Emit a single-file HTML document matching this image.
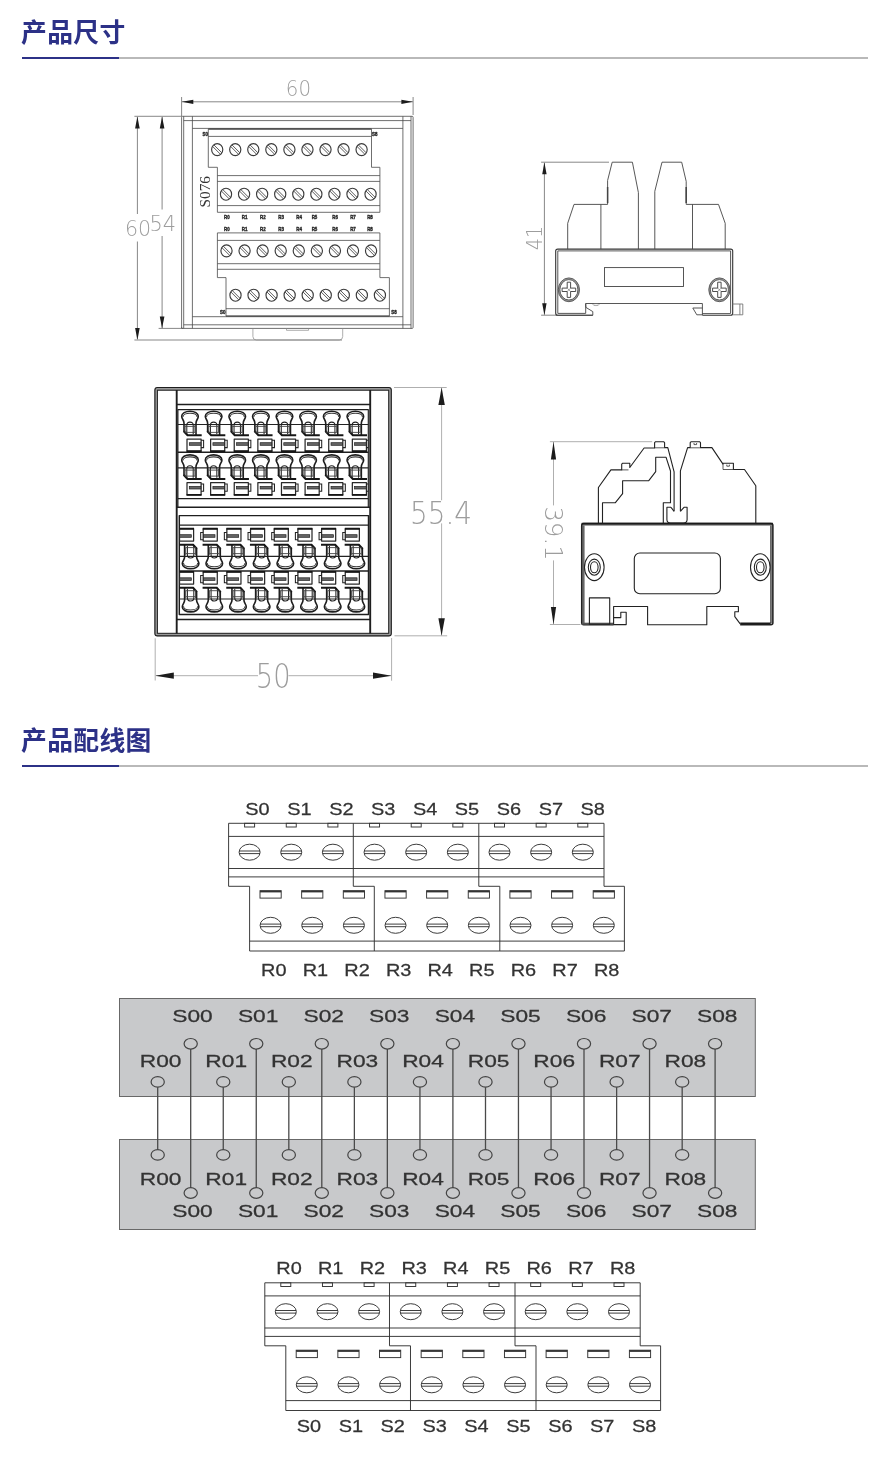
<!DOCTYPE html>
<html lang="zh-CN">
<head>
<meta charset="utf-8">
<title>产品尺寸 / 产品配线图</title>
<style>
html,body{margin:0;padding:0;background:#fff;}
body{width:891px;height:1479px;position:relative;overflow:hidden;font-family:"Liberation Sans","Noto Sans CJK SC",sans-serif;}
.page{position:relative;width:891px;height:1479px;background:#fff;overflow:hidden;}
h2.sec{position:absolute;left:21.4px;margin:0;padding:0;font-family:"Liberation Sans","Noto Sans CJK SC",sans-serif;font-weight:700;font-size:25.8px;line-height:30px;height:30px;color:#2c3187;letter-spacing:.35px;white-space:nowrap;will-change:transform;}
.rule{position:absolute;left:22px;width:846px;height:2px;background:#b9b9b9;}
.rule i{position:absolute;left:0;top:0;width:97px;height:2px;background:#2c3187;display:block;}
svg.draw{position:absolute;left:0;top:0;width:891px;height:1479px;will-change:transform;}
svg.draw *{vector-effect:none;}
.t1{fill:none;stroke:#4a4a4a;stroke-width:.8;}
.t1b{fill:none;stroke:#3a3a3a;stroke-width:1.3;}
.t1l{fill:none;stroke:#8a8a8a;stroke-width:.7;}
.dm{fill:none;stroke:#555;stroke-width:.7;}
.dg{fill:none;stroke:#9a9a9a;stroke-width:.8;}
.ar{fill:#1c1c1c;stroke:none;}
.t2{fill:none;stroke:#444;stroke-width:.9;}
.t3{fill:none;stroke:#1e1e1e;stroke-width:1.45;stroke-linejoin:round;}
.t3b{fill:none;stroke:#161616;stroke-width:2.1;stroke-linecap:butt;}
.t3t{fill:none;stroke:#222;stroke-width:1.05;}
.t3f{fill:#666;stroke:#222;stroke-width:.7;}
.t4{fill:none;stroke:#222;stroke-width:1.1;stroke-linejoin:round;}
.t4b{fill:none;stroke:#1a1a1a;stroke-width:1.8;}
.t4t{fill:none;stroke:#333;stroke-width:.8;}
.c1{fill:none;stroke:#333;stroke-width:.95;}
.c1w{fill:#fff;stroke:#333;stroke-width:.95;}
.gbox{fill:#c8c9cb;stroke:#686868;stroke-width:1;}
.w{fill:none;stroke:#4a4a4a;stroke-width:1.3;}
.wc{fill:#c8c9cb;stroke:#444;stroke-width:1.2;}
.num{font-family:"DejaVu Sans Light","DejaVu Sans","Liberation Sans",sans-serif;font-weight:200;fill:#9d9d9d;}
.tiny{font-family:"Liberation Sans",sans-serif;font-weight:700;font-size:6.2px;fill:#262626;stroke:#262626;stroke-width:.4;text-anchor:middle;}
.serif{font-family:"Liberation Serif",serif;font-size:15px;fill:#333;}
.lab{font-family:"Liberation Sans",sans-serif;font-size:16.2px;fill:#333;stroke:#333;stroke-width:.25;text-anchor:middle;}
.lab2{font-family:"Liberation Sans",sans-serif;font-size:16.6px;fill:#333;stroke:#333;stroke-width:.25;text-anchor:middle;}
</style>
</head>
<body>
<div class="page">
<h2 class="sec" style="top:17.7px">产品尺寸</h2>
<div class="rule" style="top:57px"><i></i></div>
<h2 class="sec" style="top:725.8px">产品配线图</h2>
<div class="rule" style="top:765px"><i></i></div>
<svg class="draw" width="891" height="1479" viewBox="0 0 891 1479">
<g id="d1">
<line x1="181.6" y1="97" x2="181.6" y2="116" class="dm"/>
<line x1="413.1" y1="97" x2="413.1" y2="115" class="dm"/>
<line x1="182" y1="101.8" x2="412.8" y2="101.8" class="dm"/>
<polygon points="181.8,101.8 193.3,99.7 193.3,103.9" class="ar"/>
<polygon points="412.9,101.8 401.4,99.7 401.4,103.9" class="ar"/>
<text x="298.4" y="95.9" class="num" font-size="21.4" text-anchor="middle" textLength="25.2" lengthAdjust="spacingAndGlyphs">60</text>
<line x1="134.4" y1="116.3" x2="182" y2="116.3" class="dm"/>
<line x1="134.4" y1="340" x2="342" y2="340" class="dm"/>
<line x1="158.6" y1="328.4" x2="183" y2="328.4" class="dm"/>
<line x1="137.4" y1="117" x2="137.4" y2="214" class="dm"/>
<line x1="137.4" y1="241.5" x2="137.4" y2="339" class="dm"/>
<line x1="162.1" y1="117" x2="162.1" y2="209.5" class="dm"/>
<line x1="162.1" y1="236" x2="162.1" y2="328" class="dm"/>
<polygon points="137.4,116.4 135.1,128.4 139.7,128.4" class="ar"/>
<polygon points="137.4,340 135.1,328 139.7,328" class="ar"/>
<polygon points="162.1,116.4 159.8,128.4 164.4,128.4" class="ar"/>
<polygon points="162.1,328.4 159.8,316.4 164.4,316.4" class="ar"/>
<text x="138" y="235.8" class="num" font-size="21.8" text-anchor="middle" textLength="26.2" lengthAdjust="spacingAndGlyphs">60</text>
<text x="162.7" y="231.3" class="num" font-size="21" text-anchor="middle" textLength="26.6" lengthAdjust="spacingAndGlyphs">54</text>
<path d="M181.6,328.4 L181.6,117.3 Q181.6,116.3 182.6,116.3 L412.1,116.3 Q413.1,116.3 413.1,117.3 L413.1,327.4 Q413.1,328.4 412.1,328.4 L182.6,328.4 Q181.6,328.4 181.6,327.4" class="t1"/>
<line x1="183.7" y1="116.3" x2="183.7" y2="328.4" class="t1"/>
<line x1="192.4" y1="116.3" x2="192.4" y2="328.4" class="t1"/>
<line x1="411" y1="116.3" x2="411" y2="328.4" class="t1"/>
<line x1="402.9" y1="116.3" x2="402.9" y2="328.4" class="t1"/>
<line x1="183.7" y1="120.6" x2="411" y2="120.6" class="t1"/>
<line x1="183.7" y1="324.8" x2="411" y2="324.8" class="t1"/>
<line x1="192.4" y1="128.4" x2="402.9" y2="128.4" class="t1"/>
<line x1="192.4" y1="316.7" x2="402.9" y2="316.7" class="t1"/>
<path d="M208.3,129.2 L371.5,129.2 L371.5,167.3 L379.9,167.3 L379.9,212.3 L217.4,212.3 L217.4,167.3 L208.3,167.3 Z" class="t1"/>
<line x1="208.3" y1="128.9" x2="371.5" y2="128.9" class="t1" style="stroke-width:1.1"/>
<line x1="208.3" y1="136.4" x2="371.5" y2="136.4" class="t1"/>
<line x1="217.4" y1="175.6" x2="379.9" y2="175.6" class="t1"/>
<line x1="217.4" y1="181.4" x2="379.9" y2="181.4" class="t1"/>
<line x1="217.4" y1="205.6" x2="379.9" y2="205.6" class="t1"/>
<path d="M217.4,232.9 L379.9,232.9 L379.9,277.6 L389.4,277.6 L389.4,316.2 L226,316.2 L226,277.6 L217.4,277.6 Z" class="t1"/>
<line x1="217.4" y1="240.4" x2="379.9" y2="240.4" class="t1"/>
<line x1="217.4" y1="263.7" x2="379.9" y2="263.7" class="t1"/>
<line x1="217.4" y1="269.3" x2="379.9" y2="269.3" class="t1"/>
<line x1="226" y1="308.7" x2="389.4" y2="308.7" class="t1"/>
<line x1="226" y1="316" x2="389.4" y2="316" class="t1" style="stroke-width:1.2"/>
<ellipse cx="217.2" cy="149.6" rx="5.6" ry="6" class="t1" style="stroke:#3a3a3a;stroke-width:1.15"/>
<line x1="212.52" y1="146.34" x2="220.46" y2="154.28" class="t1" style="stroke:#484848;stroke-width:.9"/>
<line x1="213.94" y1="144.92" x2="221.88" y2="152.86" class="t1" style="stroke:#484848;stroke-width:.9"/>
<ellipse cx="226" cy="194.2" rx="5.6" ry="6" class="t1" style="stroke:#3a3a3a;stroke-width:1.15"/>
<line x1="221.32" y1="190.94" x2="229.26" y2="198.88" class="t1" style="stroke:#484848;stroke-width:.9"/>
<line x1="222.74" y1="189.52" x2="230.68" y2="197.46" class="t1" style="stroke:#484848;stroke-width:.9"/>
<ellipse cx="226.5" cy="250.8" rx="5.6" ry="6" class="t1" style="stroke:#3a3a3a;stroke-width:1.15"/>
<line x1="221.82" y1="247.54" x2="229.76" y2="255.48" class="t1" style="stroke:#484848;stroke-width:.9"/>
<line x1="223.24" y1="246.12" x2="231.18" y2="254.06" class="t1" style="stroke:#484848;stroke-width:.9"/>
<ellipse cx="235.5" cy="295.2" rx="5.6" ry="6" class="t1" style="stroke:#3a3a3a;stroke-width:1.15"/>
<line x1="230.82" y1="291.94" x2="238.76" y2="299.88" class="t1" style="stroke:#484848;stroke-width:.9"/>
<line x1="232.24" y1="290.52" x2="240.18" y2="298.46" class="t1" style="stroke:#484848;stroke-width:.9"/>
<ellipse cx="235.25" cy="149.6" rx="5.6" ry="6" class="t1" style="stroke:#3a3a3a;stroke-width:1.15"/>
<line x1="230.57" y1="146.34" x2="238.51" y2="154.28" class="t1" style="stroke:#484848;stroke-width:.9"/>
<line x1="231.99" y1="144.92" x2="239.93" y2="152.86" class="t1" style="stroke:#484848;stroke-width:.9"/>
<ellipse cx="244.07" cy="194.2" rx="5.6" ry="6" class="t1" style="stroke:#3a3a3a;stroke-width:1.15"/>
<line x1="239.39" y1="190.94" x2="247.33" y2="198.88" class="t1" style="stroke:#484848;stroke-width:.9"/>
<line x1="240.81" y1="189.52" x2="248.75" y2="197.46" class="t1" style="stroke:#484848;stroke-width:.9"/>
<ellipse cx="244.57" cy="250.8" rx="5.6" ry="6" class="t1" style="stroke:#3a3a3a;stroke-width:1.15"/>
<line x1="239.89" y1="247.54" x2="247.83" y2="255.48" class="t1" style="stroke:#484848;stroke-width:.9"/>
<line x1="241.31" y1="246.12" x2="249.25" y2="254.06" class="t1" style="stroke:#484848;stroke-width:.9"/>
<ellipse cx="253.55" cy="295.2" rx="5.6" ry="6" class="t1" style="stroke:#3a3a3a;stroke-width:1.15"/>
<line x1="248.87" y1="291.94" x2="256.81" y2="299.88" class="t1" style="stroke:#484848;stroke-width:.9"/>
<line x1="250.29" y1="290.52" x2="258.23" y2="298.46" class="t1" style="stroke:#484848;stroke-width:.9"/>
<ellipse cx="253.3" cy="149.6" rx="5.6" ry="6" class="t1" style="stroke:#3a3a3a;stroke-width:1.15"/>
<line x1="248.62" y1="146.34" x2="256.56" y2="154.28" class="t1" style="stroke:#484848;stroke-width:.9"/>
<line x1="250.04" y1="144.92" x2="257.98" y2="152.86" class="t1" style="stroke:#484848;stroke-width:.9"/>
<ellipse cx="262.14" cy="194.2" rx="5.6" ry="6" class="t1" style="stroke:#3a3a3a;stroke-width:1.15"/>
<line x1="257.46" y1="190.94" x2="265.4" y2="198.88" class="t1" style="stroke:#484848;stroke-width:.9"/>
<line x1="258.88" y1="189.52" x2="266.82" y2="197.46" class="t1" style="stroke:#484848;stroke-width:.9"/>
<ellipse cx="262.64" cy="250.8" rx="5.6" ry="6" class="t1" style="stroke:#3a3a3a;stroke-width:1.15"/>
<line x1="257.96" y1="247.54" x2="265.9" y2="255.48" class="t1" style="stroke:#484848;stroke-width:.9"/>
<line x1="259.38" y1="246.12" x2="267.32" y2="254.06" class="t1" style="stroke:#484848;stroke-width:.9"/>
<ellipse cx="271.6" cy="295.2" rx="5.6" ry="6" class="t1" style="stroke:#3a3a3a;stroke-width:1.15"/>
<line x1="266.92" y1="291.94" x2="274.86" y2="299.88" class="t1" style="stroke:#484848;stroke-width:.9"/>
<line x1="268.34" y1="290.52" x2="276.28" y2="298.46" class="t1" style="stroke:#484848;stroke-width:.9"/>
<ellipse cx="271.35" cy="149.6" rx="5.6" ry="6" class="t1" style="stroke:#3a3a3a;stroke-width:1.15"/>
<line x1="266.67" y1="146.34" x2="274.61" y2="154.28" class="t1" style="stroke:#484848;stroke-width:.9"/>
<line x1="268.09" y1="144.92" x2="276.03" y2="152.86" class="t1" style="stroke:#484848;stroke-width:.9"/>
<ellipse cx="280.21" cy="194.2" rx="5.6" ry="6" class="t1" style="stroke:#3a3a3a;stroke-width:1.15"/>
<line x1="275.53" y1="190.94" x2="283.47" y2="198.88" class="t1" style="stroke:#484848;stroke-width:.9"/>
<line x1="276.95" y1="189.52" x2="284.89" y2="197.46" class="t1" style="stroke:#484848;stroke-width:.9"/>
<ellipse cx="280.71" cy="250.8" rx="5.6" ry="6" class="t1" style="stroke:#3a3a3a;stroke-width:1.15"/>
<line x1="276.03" y1="247.54" x2="283.97" y2="255.48" class="t1" style="stroke:#484848;stroke-width:.9"/>
<line x1="277.45" y1="246.12" x2="285.39" y2="254.06" class="t1" style="stroke:#484848;stroke-width:.9"/>
<ellipse cx="289.65" cy="295.2" rx="5.6" ry="6" class="t1" style="stroke:#3a3a3a;stroke-width:1.15"/>
<line x1="284.97" y1="291.94" x2="292.91" y2="299.88" class="t1" style="stroke:#484848;stroke-width:.9"/>
<line x1="286.39" y1="290.52" x2="294.33" y2="298.46" class="t1" style="stroke:#484848;stroke-width:.9"/>
<ellipse cx="289.4" cy="149.6" rx="5.6" ry="6" class="t1" style="stroke:#3a3a3a;stroke-width:1.15"/>
<line x1="284.72" y1="146.34" x2="292.66" y2="154.28" class="t1" style="stroke:#484848;stroke-width:.9"/>
<line x1="286.14" y1="144.92" x2="294.08" y2="152.86" class="t1" style="stroke:#484848;stroke-width:.9"/>
<ellipse cx="298.28" cy="194.2" rx="5.6" ry="6" class="t1" style="stroke:#3a3a3a;stroke-width:1.15"/>
<line x1="293.6" y1="190.94" x2="301.54" y2="198.88" class="t1" style="stroke:#484848;stroke-width:.9"/>
<line x1="295.02" y1="189.52" x2="302.96" y2="197.46" class="t1" style="stroke:#484848;stroke-width:.9"/>
<ellipse cx="298.78" cy="250.8" rx="5.6" ry="6" class="t1" style="stroke:#3a3a3a;stroke-width:1.15"/>
<line x1="294.1" y1="247.54" x2="302.04" y2="255.48" class="t1" style="stroke:#484848;stroke-width:.9"/>
<line x1="295.52" y1="246.12" x2="303.46" y2="254.06" class="t1" style="stroke:#484848;stroke-width:.9"/>
<ellipse cx="307.7" cy="295.2" rx="5.6" ry="6" class="t1" style="stroke:#3a3a3a;stroke-width:1.15"/>
<line x1="303.02" y1="291.94" x2="310.96" y2="299.88" class="t1" style="stroke:#484848;stroke-width:.9"/>
<line x1="304.44" y1="290.52" x2="312.38" y2="298.46" class="t1" style="stroke:#484848;stroke-width:.9"/>
<ellipse cx="307.45" cy="149.6" rx="5.6" ry="6" class="t1" style="stroke:#3a3a3a;stroke-width:1.15"/>
<line x1="302.77" y1="146.34" x2="310.71" y2="154.28" class="t1" style="stroke:#484848;stroke-width:.9"/>
<line x1="304.19" y1="144.92" x2="312.13" y2="152.86" class="t1" style="stroke:#484848;stroke-width:.9"/>
<ellipse cx="316.35" cy="194.2" rx="5.6" ry="6" class="t1" style="stroke:#3a3a3a;stroke-width:1.15"/>
<line x1="311.67" y1="190.94" x2="319.61" y2="198.88" class="t1" style="stroke:#484848;stroke-width:.9"/>
<line x1="313.09" y1="189.52" x2="321.03" y2="197.46" class="t1" style="stroke:#484848;stroke-width:.9"/>
<ellipse cx="316.85" cy="250.8" rx="5.6" ry="6" class="t1" style="stroke:#3a3a3a;stroke-width:1.15"/>
<line x1="312.17" y1="247.54" x2="320.11" y2="255.48" class="t1" style="stroke:#484848;stroke-width:.9"/>
<line x1="313.59" y1="246.12" x2="321.53" y2="254.06" class="t1" style="stroke:#484848;stroke-width:.9"/>
<ellipse cx="325.75" cy="295.2" rx="5.6" ry="6" class="t1" style="stroke:#3a3a3a;stroke-width:1.15"/>
<line x1="321.07" y1="291.94" x2="329.01" y2="299.88" class="t1" style="stroke:#484848;stroke-width:.9"/>
<line x1="322.49" y1="290.52" x2="330.43" y2="298.46" class="t1" style="stroke:#484848;stroke-width:.9"/>
<ellipse cx="325.5" cy="149.6" rx="5.6" ry="6" class="t1" style="stroke:#3a3a3a;stroke-width:1.15"/>
<line x1="320.82" y1="146.34" x2="328.76" y2="154.28" class="t1" style="stroke:#484848;stroke-width:.9"/>
<line x1="322.24" y1="144.92" x2="330.18" y2="152.86" class="t1" style="stroke:#484848;stroke-width:.9"/>
<ellipse cx="334.42" cy="194.2" rx="5.6" ry="6" class="t1" style="stroke:#3a3a3a;stroke-width:1.15"/>
<line x1="329.74" y1="190.94" x2="337.68" y2="198.88" class="t1" style="stroke:#484848;stroke-width:.9"/>
<line x1="331.16" y1="189.52" x2="339.1" y2="197.46" class="t1" style="stroke:#484848;stroke-width:.9"/>
<ellipse cx="334.92" cy="250.8" rx="5.6" ry="6" class="t1" style="stroke:#3a3a3a;stroke-width:1.15"/>
<line x1="330.24" y1="247.54" x2="338.18" y2="255.48" class="t1" style="stroke:#484848;stroke-width:.9"/>
<line x1="331.66" y1="246.12" x2="339.6" y2="254.06" class="t1" style="stroke:#484848;stroke-width:.9"/>
<ellipse cx="343.8" cy="295.2" rx="5.6" ry="6" class="t1" style="stroke:#3a3a3a;stroke-width:1.15"/>
<line x1="339.12" y1="291.94" x2="347.06" y2="299.88" class="t1" style="stroke:#484848;stroke-width:.9"/>
<line x1="340.54" y1="290.52" x2="348.48" y2="298.46" class="t1" style="stroke:#484848;stroke-width:.9"/>
<ellipse cx="343.55" cy="149.6" rx="5.6" ry="6" class="t1" style="stroke:#3a3a3a;stroke-width:1.15"/>
<line x1="338.87" y1="146.34" x2="346.81" y2="154.28" class="t1" style="stroke:#484848;stroke-width:.9"/>
<line x1="340.29" y1="144.92" x2="348.23" y2="152.86" class="t1" style="stroke:#484848;stroke-width:.9"/>
<ellipse cx="352.49" cy="194.2" rx="5.6" ry="6" class="t1" style="stroke:#3a3a3a;stroke-width:1.15"/>
<line x1="347.81" y1="190.94" x2="355.75" y2="198.88" class="t1" style="stroke:#484848;stroke-width:.9"/>
<line x1="349.23" y1="189.52" x2="357.17" y2="197.46" class="t1" style="stroke:#484848;stroke-width:.9"/>
<ellipse cx="352.99" cy="250.8" rx="5.6" ry="6" class="t1" style="stroke:#3a3a3a;stroke-width:1.15"/>
<line x1="348.31" y1="247.54" x2="356.25" y2="255.48" class="t1" style="stroke:#484848;stroke-width:.9"/>
<line x1="349.73" y1="246.12" x2="357.67" y2="254.06" class="t1" style="stroke:#484848;stroke-width:.9"/>
<ellipse cx="361.85" cy="295.2" rx="5.6" ry="6" class="t1" style="stroke:#3a3a3a;stroke-width:1.15"/>
<line x1="357.17" y1="291.94" x2="365.11" y2="299.88" class="t1" style="stroke:#484848;stroke-width:.9"/>
<line x1="358.59" y1="290.52" x2="366.53" y2="298.46" class="t1" style="stroke:#484848;stroke-width:.9"/>
<ellipse cx="361.6" cy="149.6" rx="5.6" ry="6" class="t1" style="stroke:#3a3a3a;stroke-width:1.15"/>
<line x1="356.92" y1="146.34" x2="364.86" y2="154.28" class="t1" style="stroke:#484848;stroke-width:.9"/>
<line x1="358.34" y1="144.92" x2="366.28" y2="152.86" class="t1" style="stroke:#484848;stroke-width:.9"/>
<ellipse cx="370.56" cy="194.2" rx="5.6" ry="6" class="t1" style="stroke:#3a3a3a;stroke-width:1.15"/>
<line x1="365.88" y1="190.94" x2="373.82" y2="198.88" class="t1" style="stroke:#484848;stroke-width:.9"/>
<line x1="367.3" y1="189.52" x2="375.24" y2="197.46" class="t1" style="stroke:#484848;stroke-width:.9"/>
<ellipse cx="371.06" cy="250.8" rx="5.6" ry="6" class="t1" style="stroke:#3a3a3a;stroke-width:1.15"/>
<line x1="366.38" y1="247.54" x2="374.32" y2="255.48" class="t1" style="stroke:#484848;stroke-width:.9"/>
<line x1="367.8" y1="246.12" x2="375.74" y2="254.06" class="t1" style="stroke:#484848;stroke-width:.9"/>
<ellipse cx="379.9" cy="295.2" rx="5.6" ry="6" class="t1" style="stroke:#3a3a3a;stroke-width:1.15"/>
<line x1="375.22" y1="291.94" x2="383.16" y2="299.88" class="t1" style="stroke:#484848;stroke-width:.9"/>
<line x1="376.64" y1="290.52" x2="384.58" y2="298.46" class="t1" style="stroke:#484848;stroke-width:.9"/>
<text class="tiny" transform="translate(226.8,219) scale(.72,1)">R0</text>
<text class="tiny" transform="translate(226.8,230.8) scale(.72,1)">R0</text>
<text class="tiny" transform="translate(244.6,219) scale(.72,1)">R1</text>
<text class="tiny" transform="translate(244.6,230.8) scale(.72,1)">R1</text>
<text class="tiny" transform="translate(262.8,219) scale(.72,1)">R2</text>
<text class="tiny" transform="translate(262.8,230.8) scale(.72,1)">R2</text>
<text class="tiny" transform="translate(281.1,219) scale(.72,1)">R3</text>
<text class="tiny" transform="translate(281.1,230.8) scale(.72,1)">R3</text>
<text class="tiny" transform="translate(299.1,219) scale(.72,1)">R4</text>
<text class="tiny" transform="translate(299.1,230.8) scale(.72,1)">R4</text>
<text class="tiny" transform="translate(314.5,219) scale(.72,1)">R5</text>
<text class="tiny" transform="translate(314.5,230.8) scale(.72,1)">R5</text>
<text class="tiny" transform="translate(335.2,219) scale(.72,1)">R6</text>
<text class="tiny" transform="translate(335.2,230.8) scale(.72,1)">R6</text>
<text class="tiny" transform="translate(353,219) scale(.72,1)">R7</text>
<text class="tiny" transform="translate(353,230.8) scale(.72,1)">R7</text>
<text class="tiny" transform="translate(370,219) scale(.72,1)">R8</text>
<text class="tiny" transform="translate(370,230.8) scale(.72,1)">R8</text>
<text class="tiny" transform="translate(205.2,136.3) scale(.72,1)">S0</text>
<text class="tiny" transform="translate(374.7,136.3) scale(.72,1)">S8</text>
<text class="tiny" transform="translate(222.7,313.6) scale(.72,1)">S0</text>
<text class="tiny" transform="translate(393.9,313.6) scale(.72,1)">S8</text>
<text class="serif" transform="translate(210,207.4) rotate(-90)" textLength="31.4" lengthAdjust="spacingAndGlyphs">S076</text>
<path d="M252.9,328.4 L252.9,336.5 Q252.9,340 256.4,340 L339.2,340 Q342.7,340 342.7,336.5 L342.7,328.4" class="t1l"/>
<path d="M286.5,328.4 L286.5,330.3 L308.6,330.3 L308.6,328.4" class="t1l"/>
</g>
<g id="d2">
<line x1="541.1" y1="162.2" x2="609" y2="162.2" class="dm"/>
<line x1="541.1" y1="315.2" x2="592.8" y2="315.2" class="dm"/>
<line x1="544.4" y1="163" x2="544.4" y2="314.5" class="dm"/>
<polygon points="544.4,162.3 542.2,174.3 546.6,174.3" class="ar"/>
<polygon points="544.4,315.2 542.2,303.2 546.6,303.2" class="ar"/>
<text class="num" font-size="20.6" text-anchor="middle" transform="translate(541.6,238) rotate(-90)" textLength="24.5" lengthAdjust="spacingAndGlyphs">41</text>
<path d="M555.7,313.2 L555.7,251.1 Q555.7,249.1 557.7,249.1 L730.7,249.1 Q732.7,249.1 732.7,251.1 L732.7,313.2 Q732.7,315.2 730.7,315.2 L702.4,315.2 M592.8,315.2 L557.7,315.2 Q555.7,315.2 555.7,313.2" class="t2" style="stroke:#333;stroke-width:1.1"/>
<path d="M557.8,313.4 L557.8,250.9 L730.6,250.9 L730.6,313.4" class="t2"/>
<line x1="557.8" y1="313.4" x2="585.7" y2="313.4" class="t2"/>
<line x1="702.4" y1="313.6" x2="730.6" y2="313.6" class="t2"/>
<path d="M585.7,313.4 L585.7,303.5 L702.4,303.5 L702.4,315.2" class="t2"/>
<path d="M585.7,303.5 L585.9,307.4 L592.8,311.6 L592.8,315.2" class="t2"/>
<path d="M702.4,308 L692.8,308 L696.8,314.8 L702.4,314.8" class="t2"/>
<ellipse cx="596" cy="304.6" rx="3" ry="1" class="t2" style="stroke:#777;stroke-width:.6"/>
<rect x="604.5" y="267.6" width="79" height="18.9" class="t2"/>
<path d="M732.7,304 L742.8,304 L742.8,314.8 L732.7,314.8 M739.9,304 L739.9,314.8" class="t2" style="stroke:#777"/>
<path d="M567.7,249.1 L567.7,223.3 L574,204.4 L607.6,204.4 L607.6,180.5 L612.2,162.2 L632.4,162.2 L638.4,192.6 L638.4,249.1" class="t2"/>
<line x1="600.9" y1="204.4" x2="600.9" y2="249.1" class="t2"/>
<line x1="607.6" y1="187" x2="607.6" y2="203" class="t2" style="stroke-width:1.5"/>
<path d="M654.8,249.1 L654.8,191.3 L662,162.2 L681.7,162.2 L686.2,181.4 L686.2,204.4 L718.5,204.4 L725.2,223.3 L725.2,249.1" class="t2"/>
<line x1="692.5" y1="204.4" x2="692.5" y2="249.1" class="t2"/>
<line x1="686.2" y1="187" x2="686.2" y2="203" class="t2" style="stroke-width:1.5"/>
<ellipse cx="568.9" cy="289.8" rx="9.8" ry="11.05" fill="none" stroke="#9a9a9a" stroke-width="1.7"/>
<ellipse cx="568.9" cy="289.8" rx="10.6" ry="11.9" class="t2" style="stroke:#444;stroke-width:.8"/>
<ellipse cx="568.9" cy="289.8" rx="9" ry="10.2" class="t2" style="stroke:#444;stroke-width:.8"/>
<path d="M567.2,282.2 L570.6,282.2 L570.6,288.1 L575.7,288.1 L575.7,291.5 L570.6,291.5 L570.6,297.4 L567.2,297.4 L567.2,291.5 L562.1,291.5 L562.1,288.1 L567.2,288.1 Z" class="t2" style="stroke:#3a3a3a"/>
<line x1="567.2" y1="288.1" x2="570.6" y2="291.5" class="t2" style="stroke-width:.5"/>
<line x1="567.2" y1="291.5" x2="570.6" y2="288.1" class="t2" style="stroke-width:.5"/>
<ellipse cx="719.4" cy="289.8" rx="9.8" ry="11.05" fill="none" stroke="#9a9a9a" stroke-width="1.7"/>
<ellipse cx="719.4" cy="289.8" rx="10.6" ry="11.9" class="t2" style="stroke:#444;stroke-width:.8"/>
<ellipse cx="719.4" cy="289.8" rx="9" ry="10.2" class="t2" style="stroke:#444;stroke-width:.8"/>
<path d="M717.7,282.2 L721.1,282.2 L721.1,288.1 L726.2,288.1 L726.2,291.5 L721.1,291.5 L721.1,297.4 L717.7,297.4 L717.7,291.5 L712.6,291.5 L712.6,288.1 L717.7,288.1 Z" class="t2" style="stroke:#3a3a3a"/>
<line x1="717.7" y1="288.1" x2="721.1" y2="291.5" class="t2" style="stroke-width:.5"/>
<line x1="717.7" y1="291.5" x2="721.1" y2="288.1" class="t2" style="stroke-width:.5"/>
</g>
<g id="d3">
<line x1="394" y1="387.5" x2="446.7" y2="387.5" class="dg"/>
<line x1="394.5" y1="635.8" x2="447.2" y2="635.8" class="dg"/>
<line x1="441.6" y1="388" x2="441.6" y2="500.3" class="dg"/>
<line x1="441.6" y1="523.4" x2="441.6" y2="635" class="dg"/>
<polygon points="441.6,387.6 438.4,405.1 444.8,405.1" class="ar"/>
<polygon points="441.6,635.8 438.4,618.3 444.8,618.3" class="ar"/>
<text class="num" font-size="32.6" x="410" y="524.2" textLength="62" lengthAdjust="spacingAndGlyphs">55.4</text>
<line x1="155.2" y1="638.3" x2="155.2" y2="680.5" class="dg"/>
<line x1="391.6" y1="638" x2="391.6" y2="680.7" class="dg"/>
<line x1="156" y1="675.7" x2="258" y2="675.7" class="dg"/>
<line x1="288.5" y1="675.7" x2="391" y2="675.7" class="dg"/>
<polygon points="155.3,675.7 173.8,672.6 173.8,678.8" class="ar"/>
<polygon points="391.5,675.7 373,672.6 373,678.8" class="ar"/>
<text class="num" font-size="33" x="255.8" y="688" textLength="34.8" lengthAdjust="spacingAndGlyphs">50</text>
<rect x="156.1" y="388.8" width="233.9" height="245.8" rx="1.5" ry="1.5" fill="none" stroke="#9a9a9a" stroke-width="3.2"/>
<rect x="154.9" y="387.5" width="236.4" height="248.4" class="t3" rx="2.4" ry="2.4" style="stroke-width:1.1"/>
<rect x="157.4" y="390.2" width="231.3" height="243.1" class="t3t" style="stroke-width:1"/>
<line x1="176.7" y1="390" x2="176.7" y2="633.5" class="t3" style="stroke-width:1.9"/>
<line x1="370.2" y1="390" x2="370.2" y2="633.5" class="t3" style="stroke-width:1.9"/>
<line x1="176.4" y1="404.4" x2="370.4" y2="404.4" class="t3"/>
<path d="M177.9,507.2 L177.9,409.6 L368.3,409.6 L368.3,507.2" class="t3" style="stroke-width:1.15"/>
<line x1="176.4" y1="507.2" x2="370.4" y2="507.2" class="t3"/>
<line x1="177.9" y1="452.3" x2="368.3" y2="452.3" class="t3"/>
<line x1="177.9" y1="498.6" x2="368.3" y2="498.6" class="t3"/>
<line x1="177.9" y1="424.5" x2="368.3" y2="424.5" class="t3t" style="stroke-width:1.2"/>
<line x1="177.9" y1="467.9" x2="368.3" y2="467.9" class="t3t" style="stroke-width:1.2"/>
<path d="M179.3,614.4 L179.3,515.6 L368.5,515.6 L368.5,614.4 Z" class="t3"/>
<line x1="179.3" y1="525.1" x2="368.5" y2="525.1" class="t3"/>
<line x1="179.3" y1="571" x2="368.5" y2="571" class="t3"/>
<line x1="179.3" y1="556.3" x2="368.5" y2="556.3" class="t3t" style="stroke-width:1.2"/>
<line x1="179.3" y1="599" x2="368.5" y2="599" class="t3t" style="stroke-width:1.2"/>
<line x1="176.4" y1="619.4" x2="370.4" y2="619.4" class="t3"/>
<clipPath id="cpU"><rect x="177.9" y="405" width="190.4" height="102"/></clipPath>
<clipPath id="cpL"><rect x="179.3" y="516" width="189.2" height="98.4"/></clipPath>
<g clip-path="url(#cpU)">
<g transform="translate(190,410.1)">
<path class="t3" style="stroke-width:1.6" d="M-6,21.2 L-6,12.8 C-6,10 -8.3,8.8 -8.3,6.1 C-8.3,3.2 -4.6,1.1 0,1.1 C4.6,1.1 8.3,3.2 8.3,6.1 C8.3,8.8 6,10 6,12.8 L6,25.2"/>
<path class="t3t" style="stroke:#3a3a3a" d="M-7.1,6.8 C-7.1,4.6 -4,3.1 0,3.1 C4,3.1 7.1,4.6 7.1,6.8"/>
<path class="t3b" d="M-6.4,20.9 L-2.5,25.2 L11.7,25.2"/>
<path class="t3t" d="M-3.2,23.9 L-3.2,15 Q-3.2,12 0,12 Q3.2,12 3.2,15 L3.2,23.9"/>
<path class="t3t" style="stroke:#444;stroke-width:.9" d="M-4.9,15 L-4.9,22.6 M4.9,15 L4.9,22.6 M-4.9,16.3 L4.9,16.3 M-4.9,22.3 L4.9,22.3"/>
<path class="t3" style="stroke-width:1.25;stroke:#2a2a2a" d="M-3,28.9 L11.1,28.9 L11.1,41.2 L-3,41.2 Z"/>
<path class="t3b" d="M-3.4,41.1 L11.5,41.1" style="stroke-width:1.9"/>
<rect class="t3f" x="-0.7" y="32.6" width="11.6" height="2.6"/>
<path class="t3t" d="M11.1,30.2 L13.6,30.2 L13.6,37.5 L11.1,37.5"/>
</g>
<g transform="translate(190,453.8)">
<path class="t3" style="stroke-width:1.6" d="M-6,21.2 L-6,12.8 C-6,10 -8.3,8.8 -8.3,6.1 C-8.3,3.2 -4.6,1.1 0,1.1 C4.6,1.1 8.3,3.2 8.3,6.1 C8.3,8.8 6,10 6,12.8 L6,25.2"/>
<path class="t3t" style="stroke:#3a3a3a" d="M-7.1,6.8 C-7.1,4.6 -4,3.1 0,3.1 C4,3.1 7.1,4.6 7.1,6.8"/>
<path class="t3b" d="M-6.4,20.9 L-2.5,25.2 L11.7,25.2"/>
<path class="t3t" d="M-3.2,23.9 L-3.2,15 Q-3.2,12 0,12 Q3.2,12 3.2,15 L3.2,23.9"/>
<path class="t3t" style="stroke:#444;stroke-width:.9" d="M-4.9,15 L-4.9,22.6 M4.9,15 L4.9,22.6 M-4.9,16.3 L4.9,16.3 M-4.9,22.3 L4.9,22.3"/>
<path class="t3" style="stroke-width:1.25;stroke:#2a2a2a" d="M-3,28.9 L11.1,28.9 L11.1,41.2 L-3,41.2 Z"/>
<path class="t3b" d="M-3.4,41.1 L11.5,41.1" style="stroke-width:1.9"/>
<rect class="t3f" x="-0.7" y="32.6" width="11.6" height="2.6"/>
<path class="t3t" d="M11.1,30.2 L13.6,30.2 L13.6,37.5 L11.1,37.5"/>
</g>
<g transform="translate(213.62,410.1)">
<path class="t3" style="stroke-width:1.6" d="M-6,21.2 L-6,12.8 C-6,10 -8.3,8.8 -8.3,6.1 C-8.3,3.2 -4.6,1.1 0,1.1 C4.6,1.1 8.3,3.2 8.3,6.1 C8.3,8.8 6,10 6,12.8 L6,25.2"/>
<path class="t3t" style="stroke:#3a3a3a" d="M-7.1,6.8 C-7.1,4.6 -4,3.1 0,3.1 C4,3.1 7.1,4.6 7.1,6.8"/>
<path class="t3b" d="M-6.4,20.9 L-2.5,25.2 L11.7,25.2"/>
<path class="t3t" d="M-3.2,23.9 L-3.2,15 Q-3.2,12 0,12 Q3.2,12 3.2,15 L3.2,23.9"/>
<path class="t3t" style="stroke:#444;stroke-width:.9" d="M-4.9,15 L-4.9,22.6 M4.9,15 L4.9,22.6 M-4.9,16.3 L4.9,16.3 M-4.9,22.3 L4.9,22.3"/>
<path class="t3" style="stroke-width:1.25;stroke:#2a2a2a" d="M-3,28.9 L11.1,28.9 L11.1,41.2 L-3,41.2 Z"/>
<path class="t3b" d="M-3.4,41.1 L11.5,41.1" style="stroke-width:1.9"/>
<rect class="t3f" x="-0.7" y="32.6" width="11.6" height="2.6"/>
<path class="t3t" d="M11.1,30.2 L13.6,30.2 L13.6,37.5 L11.1,37.5"/>
</g>
<g transform="translate(213.62,453.8)">
<path class="t3" style="stroke-width:1.6" d="M-6,21.2 L-6,12.8 C-6,10 -8.3,8.8 -8.3,6.1 C-8.3,3.2 -4.6,1.1 0,1.1 C4.6,1.1 8.3,3.2 8.3,6.1 C8.3,8.8 6,10 6,12.8 L6,25.2"/>
<path class="t3t" style="stroke:#3a3a3a" d="M-7.1,6.8 C-7.1,4.6 -4,3.1 0,3.1 C4,3.1 7.1,4.6 7.1,6.8"/>
<path class="t3b" d="M-6.4,20.9 L-2.5,25.2 L11.7,25.2"/>
<path class="t3t" d="M-3.2,23.9 L-3.2,15 Q-3.2,12 0,12 Q3.2,12 3.2,15 L3.2,23.9"/>
<path class="t3t" style="stroke:#444;stroke-width:.9" d="M-4.9,15 L-4.9,22.6 M4.9,15 L4.9,22.6 M-4.9,16.3 L4.9,16.3 M-4.9,22.3 L4.9,22.3"/>
<path class="t3" style="stroke-width:1.25;stroke:#2a2a2a" d="M-3,28.9 L11.1,28.9 L11.1,41.2 L-3,41.2 Z"/>
<path class="t3b" d="M-3.4,41.1 L11.5,41.1" style="stroke-width:1.9"/>
<rect class="t3f" x="-0.7" y="32.6" width="11.6" height="2.6"/>
<path class="t3t" d="M11.1,30.2 L13.6,30.2 L13.6,37.5 L11.1,37.5"/>
</g>
<g transform="translate(237.24,410.1)">
<path class="t3" style="stroke-width:1.6" d="M-6,21.2 L-6,12.8 C-6,10 -8.3,8.8 -8.3,6.1 C-8.3,3.2 -4.6,1.1 0,1.1 C4.6,1.1 8.3,3.2 8.3,6.1 C8.3,8.8 6,10 6,12.8 L6,25.2"/>
<path class="t3t" style="stroke:#3a3a3a" d="M-7.1,6.8 C-7.1,4.6 -4,3.1 0,3.1 C4,3.1 7.1,4.6 7.1,6.8"/>
<path class="t3b" d="M-6.4,20.9 L-2.5,25.2 L11.7,25.2"/>
<path class="t3t" d="M-3.2,23.9 L-3.2,15 Q-3.2,12 0,12 Q3.2,12 3.2,15 L3.2,23.9"/>
<path class="t3t" style="stroke:#444;stroke-width:.9" d="M-4.9,15 L-4.9,22.6 M4.9,15 L4.9,22.6 M-4.9,16.3 L4.9,16.3 M-4.9,22.3 L4.9,22.3"/>
<path class="t3" style="stroke-width:1.25;stroke:#2a2a2a" d="M-3,28.9 L11.1,28.9 L11.1,41.2 L-3,41.2 Z"/>
<path class="t3b" d="M-3.4,41.1 L11.5,41.1" style="stroke-width:1.9"/>
<rect class="t3f" x="-0.7" y="32.6" width="11.6" height="2.6"/>
<path class="t3t" d="M11.1,30.2 L13.6,30.2 L13.6,37.5 L11.1,37.5"/>
</g>
<g transform="translate(237.24,453.8)">
<path class="t3" style="stroke-width:1.6" d="M-6,21.2 L-6,12.8 C-6,10 -8.3,8.8 -8.3,6.1 C-8.3,3.2 -4.6,1.1 0,1.1 C4.6,1.1 8.3,3.2 8.3,6.1 C8.3,8.8 6,10 6,12.8 L6,25.2"/>
<path class="t3t" style="stroke:#3a3a3a" d="M-7.1,6.8 C-7.1,4.6 -4,3.1 0,3.1 C4,3.1 7.1,4.6 7.1,6.8"/>
<path class="t3b" d="M-6.4,20.9 L-2.5,25.2 L11.7,25.2"/>
<path class="t3t" d="M-3.2,23.9 L-3.2,15 Q-3.2,12 0,12 Q3.2,12 3.2,15 L3.2,23.9"/>
<path class="t3t" style="stroke:#444;stroke-width:.9" d="M-4.9,15 L-4.9,22.6 M4.9,15 L4.9,22.6 M-4.9,16.3 L4.9,16.3 M-4.9,22.3 L4.9,22.3"/>
<path class="t3" style="stroke-width:1.25;stroke:#2a2a2a" d="M-3,28.9 L11.1,28.9 L11.1,41.2 L-3,41.2 Z"/>
<path class="t3b" d="M-3.4,41.1 L11.5,41.1" style="stroke-width:1.9"/>
<rect class="t3f" x="-0.7" y="32.6" width="11.6" height="2.6"/>
<path class="t3t" d="M11.1,30.2 L13.6,30.2 L13.6,37.5 L11.1,37.5"/>
</g>
<g transform="translate(260.86,410.1)">
<path class="t3" style="stroke-width:1.6" d="M-6,21.2 L-6,12.8 C-6,10 -8.3,8.8 -8.3,6.1 C-8.3,3.2 -4.6,1.1 0,1.1 C4.6,1.1 8.3,3.2 8.3,6.1 C8.3,8.8 6,10 6,12.8 L6,25.2"/>
<path class="t3t" style="stroke:#3a3a3a" d="M-7.1,6.8 C-7.1,4.6 -4,3.1 0,3.1 C4,3.1 7.1,4.6 7.1,6.8"/>
<path class="t3b" d="M-6.4,20.9 L-2.5,25.2 L11.7,25.2"/>
<path class="t3t" d="M-3.2,23.9 L-3.2,15 Q-3.2,12 0,12 Q3.2,12 3.2,15 L3.2,23.9"/>
<path class="t3t" style="stroke:#444;stroke-width:.9" d="M-4.9,15 L-4.9,22.6 M4.9,15 L4.9,22.6 M-4.9,16.3 L4.9,16.3 M-4.9,22.3 L4.9,22.3"/>
<path class="t3" style="stroke-width:1.25;stroke:#2a2a2a" d="M-3,28.9 L11.1,28.9 L11.1,41.2 L-3,41.2 Z"/>
<path class="t3b" d="M-3.4,41.1 L11.5,41.1" style="stroke-width:1.9"/>
<rect class="t3f" x="-0.7" y="32.6" width="11.6" height="2.6"/>
<path class="t3t" d="M11.1,30.2 L13.6,30.2 L13.6,37.5 L11.1,37.5"/>
</g>
<g transform="translate(260.86,453.8)">
<path class="t3" style="stroke-width:1.6" d="M-6,21.2 L-6,12.8 C-6,10 -8.3,8.8 -8.3,6.1 C-8.3,3.2 -4.6,1.1 0,1.1 C4.6,1.1 8.3,3.2 8.3,6.1 C8.3,8.8 6,10 6,12.8 L6,25.2"/>
<path class="t3t" style="stroke:#3a3a3a" d="M-7.1,6.8 C-7.1,4.6 -4,3.1 0,3.1 C4,3.1 7.1,4.6 7.1,6.8"/>
<path class="t3b" d="M-6.4,20.9 L-2.5,25.2 L11.7,25.2"/>
<path class="t3t" d="M-3.2,23.9 L-3.2,15 Q-3.2,12 0,12 Q3.2,12 3.2,15 L3.2,23.9"/>
<path class="t3t" style="stroke:#444;stroke-width:.9" d="M-4.9,15 L-4.9,22.6 M4.9,15 L4.9,22.6 M-4.9,16.3 L4.9,16.3 M-4.9,22.3 L4.9,22.3"/>
<path class="t3" style="stroke-width:1.25;stroke:#2a2a2a" d="M-3,28.9 L11.1,28.9 L11.1,41.2 L-3,41.2 Z"/>
<path class="t3b" d="M-3.4,41.1 L11.5,41.1" style="stroke-width:1.9"/>
<rect class="t3f" x="-0.7" y="32.6" width="11.6" height="2.6"/>
<path class="t3t" d="M11.1,30.2 L13.6,30.2 L13.6,37.5 L11.1,37.5"/>
</g>
<g transform="translate(284.48,410.1)">
<path class="t3" style="stroke-width:1.6" d="M-6,21.2 L-6,12.8 C-6,10 -8.3,8.8 -8.3,6.1 C-8.3,3.2 -4.6,1.1 0,1.1 C4.6,1.1 8.3,3.2 8.3,6.1 C8.3,8.8 6,10 6,12.8 L6,25.2"/>
<path class="t3t" style="stroke:#3a3a3a" d="M-7.1,6.8 C-7.1,4.6 -4,3.1 0,3.1 C4,3.1 7.1,4.6 7.1,6.8"/>
<path class="t3b" d="M-6.4,20.9 L-2.5,25.2 L11.7,25.2"/>
<path class="t3t" d="M-3.2,23.9 L-3.2,15 Q-3.2,12 0,12 Q3.2,12 3.2,15 L3.2,23.9"/>
<path class="t3t" style="stroke:#444;stroke-width:.9" d="M-4.9,15 L-4.9,22.6 M4.9,15 L4.9,22.6 M-4.9,16.3 L4.9,16.3 M-4.9,22.3 L4.9,22.3"/>
<path class="t3" style="stroke-width:1.25;stroke:#2a2a2a" d="M-3,28.9 L11.1,28.9 L11.1,41.2 L-3,41.2 Z"/>
<path class="t3b" d="M-3.4,41.1 L11.5,41.1" style="stroke-width:1.9"/>
<rect class="t3f" x="-0.7" y="32.6" width="11.6" height="2.6"/>
<path class="t3t" d="M11.1,30.2 L13.6,30.2 L13.6,37.5 L11.1,37.5"/>
</g>
<g transform="translate(284.48,453.8)">
<path class="t3" style="stroke-width:1.6" d="M-6,21.2 L-6,12.8 C-6,10 -8.3,8.8 -8.3,6.1 C-8.3,3.2 -4.6,1.1 0,1.1 C4.6,1.1 8.3,3.2 8.3,6.1 C8.3,8.8 6,10 6,12.8 L6,25.2"/>
<path class="t3t" style="stroke:#3a3a3a" d="M-7.1,6.8 C-7.1,4.6 -4,3.1 0,3.1 C4,3.1 7.1,4.6 7.1,6.8"/>
<path class="t3b" d="M-6.4,20.9 L-2.5,25.2 L11.7,25.2"/>
<path class="t3t" d="M-3.2,23.9 L-3.2,15 Q-3.2,12 0,12 Q3.2,12 3.2,15 L3.2,23.9"/>
<path class="t3t" style="stroke:#444;stroke-width:.9" d="M-4.9,15 L-4.9,22.6 M4.9,15 L4.9,22.6 M-4.9,16.3 L4.9,16.3 M-4.9,22.3 L4.9,22.3"/>
<path class="t3" style="stroke-width:1.25;stroke:#2a2a2a" d="M-3,28.9 L11.1,28.9 L11.1,41.2 L-3,41.2 Z"/>
<path class="t3b" d="M-3.4,41.1 L11.5,41.1" style="stroke-width:1.9"/>
<rect class="t3f" x="-0.7" y="32.6" width="11.6" height="2.6"/>
<path class="t3t" d="M11.1,30.2 L13.6,30.2 L13.6,37.5 L11.1,37.5"/>
</g>
<g transform="translate(308.1,410.1)">
<path class="t3" style="stroke-width:1.6" d="M-6,21.2 L-6,12.8 C-6,10 -8.3,8.8 -8.3,6.1 C-8.3,3.2 -4.6,1.1 0,1.1 C4.6,1.1 8.3,3.2 8.3,6.1 C8.3,8.8 6,10 6,12.8 L6,25.2"/>
<path class="t3t" style="stroke:#3a3a3a" d="M-7.1,6.8 C-7.1,4.6 -4,3.1 0,3.1 C4,3.1 7.1,4.6 7.1,6.8"/>
<path class="t3b" d="M-6.4,20.9 L-2.5,25.2 L11.7,25.2"/>
<path class="t3t" d="M-3.2,23.9 L-3.2,15 Q-3.2,12 0,12 Q3.2,12 3.2,15 L3.2,23.9"/>
<path class="t3t" style="stroke:#444;stroke-width:.9" d="M-4.9,15 L-4.9,22.6 M4.9,15 L4.9,22.6 M-4.9,16.3 L4.9,16.3 M-4.9,22.3 L4.9,22.3"/>
<path class="t3" style="stroke-width:1.25;stroke:#2a2a2a" d="M-3,28.9 L11.1,28.9 L11.1,41.2 L-3,41.2 Z"/>
<path class="t3b" d="M-3.4,41.1 L11.5,41.1" style="stroke-width:1.9"/>
<rect class="t3f" x="-0.7" y="32.6" width="11.6" height="2.6"/>
<path class="t3t" d="M11.1,30.2 L13.6,30.2 L13.6,37.5 L11.1,37.5"/>
</g>
<g transform="translate(308.1,453.8)">
<path class="t3" style="stroke-width:1.6" d="M-6,21.2 L-6,12.8 C-6,10 -8.3,8.8 -8.3,6.1 C-8.3,3.2 -4.6,1.1 0,1.1 C4.6,1.1 8.3,3.2 8.3,6.1 C8.3,8.8 6,10 6,12.8 L6,25.2"/>
<path class="t3t" style="stroke:#3a3a3a" d="M-7.1,6.8 C-7.1,4.6 -4,3.1 0,3.1 C4,3.1 7.1,4.6 7.1,6.8"/>
<path class="t3b" d="M-6.4,20.9 L-2.5,25.2 L11.7,25.2"/>
<path class="t3t" d="M-3.2,23.9 L-3.2,15 Q-3.2,12 0,12 Q3.2,12 3.2,15 L3.2,23.9"/>
<path class="t3t" style="stroke:#444;stroke-width:.9" d="M-4.9,15 L-4.9,22.6 M4.9,15 L4.9,22.6 M-4.9,16.3 L4.9,16.3 M-4.9,22.3 L4.9,22.3"/>
<path class="t3" style="stroke-width:1.25;stroke:#2a2a2a" d="M-3,28.9 L11.1,28.9 L11.1,41.2 L-3,41.2 Z"/>
<path class="t3b" d="M-3.4,41.1 L11.5,41.1" style="stroke-width:1.9"/>
<rect class="t3f" x="-0.7" y="32.6" width="11.6" height="2.6"/>
<path class="t3t" d="M11.1,30.2 L13.6,30.2 L13.6,37.5 L11.1,37.5"/>
</g>
<g transform="translate(331.72,410.1)">
<path class="t3" style="stroke-width:1.6" d="M-6,21.2 L-6,12.8 C-6,10 -8.3,8.8 -8.3,6.1 C-8.3,3.2 -4.6,1.1 0,1.1 C4.6,1.1 8.3,3.2 8.3,6.1 C8.3,8.8 6,10 6,12.8 L6,25.2"/>
<path class="t3t" style="stroke:#3a3a3a" d="M-7.1,6.8 C-7.1,4.6 -4,3.1 0,3.1 C4,3.1 7.1,4.6 7.1,6.8"/>
<path class="t3b" d="M-6.4,20.9 L-2.5,25.2 L11.7,25.2"/>
<path class="t3t" d="M-3.2,23.9 L-3.2,15 Q-3.2,12 0,12 Q3.2,12 3.2,15 L3.2,23.9"/>
<path class="t3t" style="stroke:#444;stroke-width:.9" d="M-4.9,15 L-4.9,22.6 M4.9,15 L4.9,22.6 M-4.9,16.3 L4.9,16.3 M-4.9,22.3 L4.9,22.3"/>
<path class="t3" style="stroke-width:1.25;stroke:#2a2a2a" d="M-3,28.9 L11.1,28.9 L11.1,41.2 L-3,41.2 Z"/>
<path class="t3b" d="M-3.4,41.1 L11.5,41.1" style="stroke-width:1.9"/>
<rect class="t3f" x="-0.7" y="32.6" width="11.6" height="2.6"/>
<path class="t3t" d="M11.1,30.2 L13.6,30.2 L13.6,37.5 L11.1,37.5"/>
</g>
<g transform="translate(331.72,453.8)">
<path class="t3" style="stroke-width:1.6" d="M-6,21.2 L-6,12.8 C-6,10 -8.3,8.8 -8.3,6.1 C-8.3,3.2 -4.6,1.1 0,1.1 C4.6,1.1 8.3,3.2 8.3,6.1 C8.3,8.8 6,10 6,12.8 L6,25.2"/>
<path class="t3t" style="stroke:#3a3a3a" d="M-7.1,6.8 C-7.1,4.6 -4,3.1 0,3.1 C4,3.1 7.1,4.6 7.1,6.8"/>
<path class="t3b" d="M-6.4,20.9 L-2.5,25.2 L11.7,25.2"/>
<path class="t3t" d="M-3.2,23.9 L-3.2,15 Q-3.2,12 0,12 Q3.2,12 3.2,15 L3.2,23.9"/>
<path class="t3t" style="stroke:#444;stroke-width:.9" d="M-4.9,15 L-4.9,22.6 M4.9,15 L4.9,22.6 M-4.9,16.3 L4.9,16.3 M-4.9,22.3 L4.9,22.3"/>
<path class="t3" style="stroke-width:1.25;stroke:#2a2a2a" d="M-3,28.9 L11.1,28.9 L11.1,41.2 L-3,41.2 Z"/>
<path class="t3b" d="M-3.4,41.1 L11.5,41.1" style="stroke-width:1.9"/>
<rect class="t3f" x="-0.7" y="32.6" width="11.6" height="2.6"/>
<path class="t3t" d="M11.1,30.2 L13.6,30.2 L13.6,37.5 L11.1,37.5"/>
</g>
<g transform="translate(355.34,410.1)">
<path class="t3" style="stroke-width:1.6" d="M-6,21.2 L-6,12.8 C-6,10 -8.3,8.8 -8.3,6.1 C-8.3,3.2 -4.6,1.1 0,1.1 C4.6,1.1 8.3,3.2 8.3,6.1 C8.3,8.8 6,10 6,12.8 L6,25.2"/>
<path class="t3t" style="stroke:#3a3a3a" d="M-7.1,6.8 C-7.1,4.6 -4,3.1 0,3.1 C4,3.1 7.1,4.6 7.1,6.8"/>
<path class="t3b" d="M-6.4,20.9 L-2.5,25.2 L11.7,25.2"/>
<path class="t3t" d="M-3.2,23.9 L-3.2,15 Q-3.2,12 0,12 Q3.2,12 3.2,15 L3.2,23.9"/>
<path class="t3t" style="stroke:#444;stroke-width:.9" d="M-4.9,15 L-4.9,22.6 M4.9,15 L4.9,22.6 M-4.9,16.3 L4.9,16.3 M-4.9,22.3 L4.9,22.3"/>
<path class="t3" style="stroke-width:1.25;stroke:#2a2a2a" d="M-3,28.9 L11.1,28.9 L11.1,41.2 L-3,41.2 Z"/>
<path class="t3b" d="M-3.4,41.1 L11.5,41.1" style="stroke-width:1.9"/>
<rect class="t3f" x="-0.7" y="32.6" width="11.6" height="2.6"/>
<path class="t3t" d="M11.1,30.2 L13.6,30.2 L13.6,37.5 L11.1,37.5"/>
</g>
<g transform="translate(355.34,453.8)">
<path class="t3" style="stroke-width:1.6" d="M-6,21.2 L-6,12.8 C-6,10 -8.3,8.8 -8.3,6.1 C-8.3,3.2 -4.6,1.1 0,1.1 C4.6,1.1 8.3,3.2 8.3,6.1 C8.3,8.8 6,10 6,12.8 L6,25.2"/>
<path class="t3t" style="stroke:#3a3a3a" d="M-7.1,6.8 C-7.1,4.6 -4,3.1 0,3.1 C4,3.1 7.1,4.6 7.1,6.8"/>
<path class="t3b" d="M-6.4,20.9 L-2.5,25.2 L11.7,25.2"/>
<path class="t3t" d="M-3.2,23.9 L-3.2,15 Q-3.2,12 0,12 Q3.2,12 3.2,15 L3.2,23.9"/>
<path class="t3t" style="stroke:#444;stroke-width:.9" d="M-4.9,15 L-4.9,22.6 M4.9,15 L4.9,22.6 M-4.9,16.3 L4.9,16.3 M-4.9,22.3 L4.9,22.3"/>
<path class="t3" style="stroke-width:1.25;stroke:#2a2a2a" d="M-3,28.9 L11.1,28.9 L11.1,41.2 L-3,41.2 Z"/>
<path class="t3b" d="M-3.4,41.1 L11.5,41.1" style="stroke-width:1.9"/>
<rect class="t3f" x="-0.7" y="32.6" width="11.6" height="2.6"/>
<path class="t3t" d="M11.1,30.2 L13.6,30.2 L13.6,37.5 L11.1,37.5"/>
</g>
</g>
<g clip-path="url(#cpL)">
<g transform="translate(190.6,569.9) rotate(180)">
<path class="t3" style="stroke-width:1.6" d="M-6,21.2 L-6,12.8 C-6,10 -8.3,8.8 -8.3,6.1 C-8.3,3.2 -4.6,1.1 0,1.1 C4.6,1.1 8.3,3.2 8.3,6.1 C8.3,8.8 6,10 6,12.8 L6,25.2"/>
<path class="t3t" style="stroke:#3a3a3a" d="M-7.1,6.8 C-7.1,4.6 -4,3.1 0,3.1 C4,3.1 7.1,4.6 7.1,6.8"/>
<path class="t3b" d="M-6.4,20.9 L-2.5,25.2 L11.7,25.2"/>
<path class="t3t" d="M-3.2,23.9 L-3.2,15 Q-3.2,12 0,12 Q3.2,12 3.2,15 L3.2,23.9"/>
<path class="t3t" style="stroke:#444;stroke-width:.9" d="M-4.9,15 L-4.9,22.6 M4.9,15 L4.9,22.6 M-4.9,16.3 L4.9,16.3 M-4.9,22.3 L4.9,22.3"/>
<path class="t3" style="stroke-width:1.25;stroke:#2a2a2a" d="M-3,28.9 L11.1,28.9 L11.1,41.2 L-3,41.2 Z"/>
<path class="t3b" d="M-3.4,41.1 L11.5,41.1" style="stroke-width:1.9"/>
<rect class="t3f" x="-0.7" y="32.6" width="11.6" height="2.6"/>
<path class="t3t" d="M11.1,30.2 L13.6,30.2 L13.6,37.5 L11.1,37.5"/>
</g>
<g transform="translate(190.6,613) rotate(180)">
<path class="t3" style="stroke-width:1.6" d="M-6,21.2 L-6,12.8 C-6,10 -8.3,8.8 -8.3,6.1 C-8.3,3.2 -4.6,1.1 0,1.1 C4.6,1.1 8.3,3.2 8.3,6.1 C8.3,8.8 6,10 6,12.8 L6,25.2"/>
<path class="t3t" style="stroke:#3a3a3a" d="M-7.1,6.8 C-7.1,4.6 -4,3.1 0,3.1 C4,3.1 7.1,4.6 7.1,6.8"/>
<path class="t3b" d="M-6.4,20.9 L-2.5,25.2 L11.7,25.2"/>
<path class="t3t" d="M-3.2,23.9 L-3.2,15 Q-3.2,12 0,12 Q3.2,12 3.2,15 L3.2,23.9"/>
<path class="t3t" style="stroke:#444;stroke-width:.9" d="M-4.9,15 L-4.9,22.6 M4.9,15 L4.9,22.6 M-4.9,16.3 L4.9,16.3 M-4.9,22.3 L4.9,22.3"/>
<path class="t3" style="stroke-width:1.25;stroke:#2a2a2a" d="M-3,28.9 L11.1,28.9 L11.1,41.2 L-3,41.2 Z"/>
<path class="t3b" d="M-3.4,41.1 L11.5,41.1" style="stroke-width:1.9"/>
<rect class="t3f" x="-0.7" y="32.6" width="11.6" height="2.6"/>
<path class="t3t" d="M11.1,30.2 L13.6,30.2 L13.6,37.5 L11.1,37.5"/>
</g>
<g transform="translate(214.28,569.9) rotate(180)">
<path class="t3" style="stroke-width:1.6" d="M-6,21.2 L-6,12.8 C-6,10 -8.3,8.8 -8.3,6.1 C-8.3,3.2 -4.6,1.1 0,1.1 C4.6,1.1 8.3,3.2 8.3,6.1 C8.3,8.8 6,10 6,12.8 L6,25.2"/>
<path class="t3t" style="stroke:#3a3a3a" d="M-7.1,6.8 C-7.1,4.6 -4,3.1 0,3.1 C4,3.1 7.1,4.6 7.1,6.8"/>
<path class="t3b" d="M-6.4,20.9 L-2.5,25.2 L11.7,25.2"/>
<path class="t3t" d="M-3.2,23.9 L-3.2,15 Q-3.2,12 0,12 Q3.2,12 3.2,15 L3.2,23.9"/>
<path class="t3t" style="stroke:#444;stroke-width:.9" d="M-4.9,15 L-4.9,22.6 M4.9,15 L4.9,22.6 M-4.9,16.3 L4.9,16.3 M-4.9,22.3 L4.9,22.3"/>
<path class="t3" style="stroke-width:1.25;stroke:#2a2a2a" d="M-3,28.9 L11.1,28.9 L11.1,41.2 L-3,41.2 Z"/>
<path class="t3b" d="M-3.4,41.1 L11.5,41.1" style="stroke-width:1.9"/>
<rect class="t3f" x="-0.7" y="32.6" width="11.6" height="2.6"/>
<path class="t3t" d="M11.1,30.2 L13.6,30.2 L13.6,37.5 L11.1,37.5"/>
</g>
<g transform="translate(214.28,613) rotate(180)">
<path class="t3" style="stroke-width:1.6" d="M-6,21.2 L-6,12.8 C-6,10 -8.3,8.8 -8.3,6.1 C-8.3,3.2 -4.6,1.1 0,1.1 C4.6,1.1 8.3,3.2 8.3,6.1 C8.3,8.8 6,10 6,12.8 L6,25.2"/>
<path class="t3t" style="stroke:#3a3a3a" d="M-7.1,6.8 C-7.1,4.6 -4,3.1 0,3.1 C4,3.1 7.1,4.6 7.1,6.8"/>
<path class="t3b" d="M-6.4,20.9 L-2.5,25.2 L11.7,25.2"/>
<path class="t3t" d="M-3.2,23.9 L-3.2,15 Q-3.2,12 0,12 Q3.2,12 3.2,15 L3.2,23.9"/>
<path class="t3t" style="stroke:#444;stroke-width:.9" d="M-4.9,15 L-4.9,22.6 M4.9,15 L4.9,22.6 M-4.9,16.3 L4.9,16.3 M-4.9,22.3 L4.9,22.3"/>
<path class="t3" style="stroke-width:1.25;stroke:#2a2a2a" d="M-3,28.9 L11.1,28.9 L11.1,41.2 L-3,41.2 Z"/>
<path class="t3b" d="M-3.4,41.1 L11.5,41.1" style="stroke-width:1.9"/>
<rect class="t3f" x="-0.7" y="32.6" width="11.6" height="2.6"/>
<path class="t3t" d="M11.1,30.2 L13.6,30.2 L13.6,37.5 L11.1,37.5"/>
</g>
<g transform="translate(237.96,569.9) rotate(180)">
<path class="t3" style="stroke-width:1.6" d="M-6,21.2 L-6,12.8 C-6,10 -8.3,8.8 -8.3,6.1 C-8.3,3.2 -4.6,1.1 0,1.1 C4.6,1.1 8.3,3.2 8.3,6.1 C8.3,8.8 6,10 6,12.8 L6,25.2"/>
<path class="t3t" style="stroke:#3a3a3a" d="M-7.1,6.8 C-7.1,4.6 -4,3.1 0,3.1 C4,3.1 7.1,4.6 7.1,6.8"/>
<path class="t3b" d="M-6.4,20.9 L-2.5,25.2 L11.7,25.2"/>
<path class="t3t" d="M-3.2,23.9 L-3.2,15 Q-3.2,12 0,12 Q3.2,12 3.2,15 L3.2,23.9"/>
<path class="t3t" style="stroke:#444;stroke-width:.9" d="M-4.9,15 L-4.9,22.6 M4.9,15 L4.9,22.6 M-4.9,16.3 L4.9,16.3 M-4.9,22.3 L4.9,22.3"/>
<path class="t3" style="stroke-width:1.25;stroke:#2a2a2a" d="M-3,28.9 L11.1,28.9 L11.1,41.2 L-3,41.2 Z"/>
<path class="t3b" d="M-3.4,41.1 L11.5,41.1" style="stroke-width:1.9"/>
<rect class="t3f" x="-0.7" y="32.6" width="11.6" height="2.6"/>
<path class="t3t" d="M11.1,30.2 L13.6,30.2 L13.6,37.5 L11.1,37.5"/>
</g>
<g transform="translate(237.96,613) rotate(180)">
<path class="t3" style="stroke-width:1.6" d="M-6,21.2 L-6,12.8 C-6,10 -8.3,8.8 -8.3,6.1 C-8.3,3.2 -4.6,1.1 0,1.1 C4.6,1.1 8.3,3.2 8.3,6.1 C8.3,8.8 6,10 6,12.8 L6,25.2"/>
<path class="t3t" style="stroke:#3a3a3a" d="M-7.1,6.8 C-7.1,4.6 -4,3.1 0,3.1 C4,3.1 7.1,4.6 7.1,6.8"/>
<path class="t3b" d="M-6.4,20.9 L-2.5,25.2 L11.7,25.2"/>
<path class="t3t" d="M-3.2,23.9 L-3.2,15 Q-3.2,12 0,12 Q3.2,12 3.2,15 L3.2,23.9"/>
<path class="t3t" style="stroke:#444;stroke-width:.9" d="M-4.9,15 L-4.9,22.6 M4.9,15 L4.9,22.6 M-4.9,16.3 L4.9,16.3 M-4.9,22.3 L4.9,22.3"/>
<path class="t3" style="stroke-width:1.25;stroke:#2a2a2a" d="M-3,28.9 L11.1,28.9 L11.1,41.2 L-3,41.2 Z"/>
<path class="t3b" d="M-3.4,41.1 L11.5,41.1" style="stroke-width:1.9"/>
<rect class="t3f" x="-0.7" y="32.6" width="11.6" height="2.6"/>
<path class="t3t" d="M11.1,30.2 L13.6,30.2 L13.6,37.5 L11.1,37.5"/>
</g>
<g transform="translate(261.64,569.9) rotate(180)">
<path class="t3" style="stroke-width:1.6" d="M-6,21.2 L-6,12.8 C-6,10 -8.3,8.8 -8.3,6.1 C-8.3,3.2 -4.6,1.1 0,1.1 C4.6,1.1 8.3,3.2 8.3,6.1 C8.3,8.8 6,10 6,12.8 L6,25.2"/>
<path class="t3t" style="stroke:#3a3a3a" d="M-7.1,6.8 C-7.1,4.6 -4,3.1 0,3.1 C4,3.1 7.1,4.6 7.1,6.8"/>
<path class="t3b" d="M-6.4,20.9 L-2.5,25.2 L11.7,25.2"/>
<path class="t3t" d="M-3.2,23.9 L-3.2,15 Q-3.2,12 0,12 Q3.2,12 3.2,15 L3.2,23.9"/>
<path class="t3t" style="stroke:#444;stroke-width:.9" d="M-4.9,15 L-4.9,22.6 M4.9,15 L4.9,22.6 M-4.9,16.3 L4.9,16.3 M-4.9,22.3 L4.9,22.3"/>
<path class="t3" style="stroke-width:1.25;stroke:#2a2a2a" d="M-3,28.9 L11.1,28.9 L11.1,41.2 L-3,41.2 Z"/>
<path class="t3b" d="M-3.4,41.1 L11.5,41.1" style="stroke-width:1.9"/>
<rect class="t3f" x="-0.7" y="32.6" width="11.6" height="2.6"/>
<path class="t3t" d="M11.1,30.2 L13.6,30.2 L13.6,37.5 L11.1,37.5"/>
</g>
<g transform="translate(261.64,613) rotate(180)">
<path class="t3" style="stroke-width:1.6" d="M-6,21.2 L-6,12.8 C-6,10 -8.3,8.8 -8.3,6.1 C-8.3,3.2 -4.6,1.1 0,1.1 C4.6,1.1 8.3,3.2 8.3,6.1 C8.3,8.8 6,10 6,12.8 L6,25.2"/>
<path class="t3t" style="stroke:#3a3a3a" d="M-7.1,6.8 C-7.1,4.6 -4,3.1 0,3.1 C4,3.1 7.1,4.6 7.1,6.8"/>
<path class="t3b" d="M-6.4,20.9 L-2.5,25.2 L11.7,25.2"/>
<path class="t3t" d="M-3.2,23.9 L-3.2,15 Q-3.2,12 0,12 Q3.2,12 3.2,15 L3.2,23.9"/>
<path class="t3t" style="stroke:#444;stroke-width:.9" d="M-4.9,15 L-4.9,22.6 M4.9,15 L4.9,22.6 M-4.9,16.3 L4.9,16.3 M-4.9,22.3 L4.9,22.3"/>
<path class="t3" style="stroke-width:1.25;stroke:#2a2a2a" d="M-3,28.9 L11.1,28.9 L11.1,41.2 L-3,41.2 Z"/>
<path class="t3b" d="M-3.4,41.1 L11.5,41.1" style="stroke-width:1.9"/>
<rect class="t3f" x="-0.7" y="32.6" width="11.6" height="2.6"/>
<path class="t3t" d="M11.1,30.2 L13.6,30.2 L13.6,37.5 L11.1,37.5"/>
</g>
<g transform="translate(285.32,569.9) rotate(180)">
<path class="t3" style="stroke-width:1.6" d="M-6,21.2 L-6,12.8 C-6,10 -8.3,8.8 -8.3,6.1 C-8.3,3.2 -4.6,1.1 0,1.1 C4.6,1.1 8.3,3.2 8.3,6.1 C8.3,8.8 6,10 6,12.8 L6,25.2"/>
<path class="t3t" style="stroke:#3a3a3a" d="M-7.1,6.8 C-7.1,4.6 -4,3.1 0,3.1 C4,3.1 7.1,4.6 7.1,6.8"/>
<path class="t3b" d="M-6.4,20.9 L-2.5,25.2 L11.7,25.2"/>
<path class="t3t" d="M-3.2,23.9 L-3.2,15 Q-3.2,12 0,12 Q3.2,12 3.2,15 L3.2,23.9"/>
<path class="t3t" style="stroke:#444;stroke-width:.9" d="M-4.9,15 L-4.9,22.6 M4.9,15 L4.9,22.6 M-4.9,16.3 L4.9,16.3 M-4.9,22.3 L4.9,22.3"/>
<path class="t3" style="stroke-width:1.25;stroke:#2a2a2a" d="M-3,28.9 L11.1,28.9 L11.1,41.2 L-3,41.2 Z"/>
<path class="t3b" d="M-3.4,41.1 L11.5,41.1" style="stroke-width:1.9"/>
<rect class="t3f" x="-0.7" y="32.6" width="11.6" height="2.6"/>
<path class="t3t" d="M11.1,30.2 L13.6,30.2 L13.6,37.5 L11.1,37.5"/>
</g>
<g transform="translate(285.32,613) rotate(180)">
<path class="t3" style="stroke-width:1.6" d="M-6,21.2 L-6,12.8 C-6,10 -8.3,8.8 -8.3,6.1 C-8.3,3.2 -4.6,1.1 0,1.1 C4.6,1.1 8.3,3.2 8.3,6.1 C8.3,8.8 6,10 6,12.8 L6,25.2"/>
<path class="t3t" style="stroke:#3a3a3a" d="M-7.1,6.8 C-7.1,4.6 -4,3.1 0,3.1 C4,3.1 7.1,4.6 7.1,6.8"/>
<path class="t3b" d="M-6.4,20.9 L-2.5,25.2 L11.7,25.2"/>
<path class="t3t" d="M-3.2,23.9 L-3.2,15 Q-3.2,12 0,12 Q3.2,12 3.2,15 L3.2,23.9"/>
<path class="t3t" style="stroke:#444;stroke-width:.9" d="M-4.9,15 L-4.9,22.6 M4.9,15 L4.9,22.6 M-4.9,16.3 L4.9,16.3 M-4.9,22.3 L4.9,22.3"/>
<path class="t3" style="stroke-width:1.25;stroke:#2a2a2a" d="M-3,28.9 L11.1,28.9 L11.1,41.2 L-3,41.2 Z"/>
<path class="t3b" d="M-3.4,41.1 L11.5,41.1" style="stroke-width:1.9"/>
<rect class="t3f" x="-0.7" y="32.6" width="11.6" height="2.6"/>
<path class="t3t" d="M11.1,30.2 L13.6,30.2 L13.6,37.5 L11.1,37.5"/>
</g>
<g transform="translate(309,569.9) rotate(180)">
<path class="t3" style="stroke-width:1.6" d="M-6,21.2 L-6,12.8 C-6,10 -8.3,8.8 -8.3,6.1 C-8.3,3.2 -4.6,1.1 0,1.1 C4.6,1.1 8.3,3.2 8.3,6.1 C8.3,8.8 6,10 6,12.8 L6,25.2"/>
<path class="t3t" style="stroke:#3a3a3a" d="M-7.1,6.8 C-7.1,4.6 -4,3.1 0,3.1 C4,3.1 7.1,4.6 7.1,6.8"/>
<path class="t3b" d="M-6.4,20.9 L-2.5,25.2 L11.7,25.2"/>
<path class="t3t" d="M-3.2,23.9 L-3.2,15 Q-3.2,12 0,12 Q3.2,12 3.2,15 L3.2,23.9"/>
<path class="t3t" style="stroke:#444;stroke-width:.9" d="M-4.9,15 L-4.9,22.6 M4.9,15 L4.9,22.6 M-4.9,16.3 L4.9,16.3 M-4.9,22.3 L4.9,22.3"/>
<path class="t3" style="stroke-width:1.25;stroke:#2a2a2a" d="M-3,28.9 L11.1,28.9 L11.1,41.2 L-3,41.2 Z"/>
<path class="t3b" d="M-3.4,41.1 L11.5,41.1" style="stroke-width:1.9"/>
<rect class="t3f" x="-0.7" y="32.6" width="11.6" height="2.6"/>
<path class="t3t" d="M11.1,30.2 L13.6,30.2 L13.6,37.5 L11.1,37.5"/>
</g>
<g transform="translate(309,613) rotate(180)">
<path class="t3" style="stroke-width:1.6" d="M-6,21.2 L-6,12.8 C-6,10 -8.3,8.8 -8.3,6.1 C-8.3,3.2 -4.6,1.1 0,1.1 C4.6,1.1 8.3,3.2 8.3,6.1 C8.3,8.8 6,10 6,12.8 L6,25.2"/>
<path class="t3t" style="stroke:#3a3a3a" d="M-7.1,6.8 C-7.1,4.6 -4,3.1 0,3.1 C4,3.1 7.1,4.6 7.1,6.8"/>
<path class="t3b" d="M-6.4,20.9 L-2.5,25.2 L11.7,25.2"/>
<path class="t3t" d="M-3.2,23.9 L-3.2,15 Q-3.2,12 0,12 Q3.2,12 3.2,15 L3.2,23.9"/>
<path class="t3t" style="stroke:#444;stroke-width:.9" d="M-4.9,15 L-4.9,22.6 M4.9,15 L4.9,22.6 M-4.9,16.3 L4.9,16.3 M-4.9,22.3 L4.9,22.3"/>
<path class="t3" style="stroke-width:1.25;stroke:#2a2a2a" d="M-3,28.9 L11.1,28.9 L11.1,41.2 L-3,41.2 Z"/>
<path class="t3b" d="M-3.4,41.1 L11.5,41.1" style="stroke-width:1.9"/>
<rect class="t3f" x="-0.7" y="32.6" width="11.6" height="2.6"/>
<path class="t3t" d="M11.1,30.2 L13.6,30.2 L13.6,37.5 L11.1,37.5"/>
</g>
<g transform="translate(332.68,569.9) rotate(180)">
<path class="t3" style="stroke-width:1.6" d="M-6,21.2 L-6,12.8 C-6,10 -8.3,8.8 -8.3,6.1 C-8.3,3.2 -4.6,1.1 0,1.1 C4.6,1.1 8.3,3.2 8.3,6.1 C8.3,8.8 6,10 6,12.8 L6,25.2"/>
<path class="t3t" style="stroke:#3a3a3a" d="M-7.1,6.8 C-7.1,4.6 -4,3.1 0,3.1 C4,3.1 7.1,4.6 7.1,6.8"/>
<path class="t3b" d="M-6.4,20.9 L-2.5,25.2 L11.7,25.2"/>
<path class="t3t" d="M-3.2,23.9 L-3.2,15 Q-3.2,12 0,12 Q3.2,12 3.2,15 L3.2,23.9"/>
<path class="t3t" style="stroke:#444;stroke-width:.9" d="M-4.9,15 L-4.9,22.6 M4.9,15 L4.9,22.6 M-4.9,16.3 L4.9,16.3 M-4.9,22.3 L4.9,22.3"/>
<path class="t3" style="stroke-width:1.25;stroke:#2a2a2a" d="M-3,28.9 L11.1,28.9 L11.1,41.2 L-3,41.2 Z"/>
<path class="t3b" d="M-3.4,41.1 L11.5,41.1" style="stroke-width:1.9"/>
<rect class="t3f" x="-0.7" y="32.6" width="11.6" height="2.6"/>
<path class="t3t" d="M11.1,30.2 L13.6,30.2 L13.6,37.5 L11.1,37.5"/>
</g>
<g transform="translate(332.68,613) rotate(180)">
<path class="t3" style="stroke-width:1.6" d="M-6,21.2 L-6,12.8 C-6,10 -8.3,8.8 -8.3,6.1 C-8.3,3.2 -4.6,1.1 0,1.1 C4.6,1.1 8.3,3.2 8.3,6.1 C8.3,8.8 6,10 6,12.8 L6,25.2"/>
<path class="t3t" style="stroke:#3a3a3a" d="M-7.1,6.8 C-7.1,4.6 -4,3.1 0,3.1 C4,3.1 7.1,4.6 7.1,6.8"/>
<path class="t3b" d="M-6.4,20.9 L-2.5,25.2 L11.7,25.2"/>
<path class="t3t" d="M-3.2,23.9 L-3.2,15 Q-3.2,12 0,12 Q3.2,12 3.2,15 L3.2,23.9"/>
<path class="t3t" style="stroke:#444;stroke-width:.9" d="M-4.9,15 L-4.9,22.6 M4.9,15 L4.9,22.6 M-4.9,16.3 L4.9,16.3 M-4.9,22.3 L4.9,22.3"/>
<path class="t3" style="stroke-width:1.25;stroke:#2a2a2a" d="M-3,28.9 L11.1,28.9 L11.1,41.2 L-3,41.2 Z"/>
<path class="t3b" d="M-3.4,41.1 L11.5,41.1" style="stroke-width:1.9"/>
<rect class="t3f" x="-0.7" y="32.6" width="11.6" height="2.6"/>
<path class="t3t" d="M11.1,30.2 L13.6,30.2 L13.6,37.5 L11.1,37.5"/>
</g>
<g transform="translate(356.36,569.9) rotate(180)">
<path class="t3" style="stroke-width:1.6" d="M-6,21.2 L-6,12.8 C-6,10 -8.3,8.8 -8.3,6.1 C-8.3,3.2 -4.6,1.1 0,1.1 C4.6,1.1 8.3,3.2 8.3,6.1 C8.3,8.8 6,10 6,12.8 L6,25.2"/>
<path class="t3t" style="stroke:#3a3a3a" d="M-7.1,6.8 C-7.1,4.6 -4,3.1 0,3.1 C4,3.1 7.1,4.6 7.1,6.8"/>
<path class="t3b" d="M-6.4,20.9 L-2.5,25.2 L11.7,25.2"/>
<path class="t3t" d="M-3.2,23.9 L-3.2,15 Q-3.2,12 0,12 Q3.2,12 3.2,15 L3.2,23.9"/>
<path class="t3t" style="stroke:#444;stroke-width:.9" d="M-4.9,15 L-4.9,22.6 M4.9,15 L4.9,22.6 M-4.9,16.3 L4.9,16.3 M-4.9,22.3 L4.9,22.3"/>
<path class="t3" style="stroke-width:1.25;stroke:#2a2a2a" d="M-3,28.9 L11.1,28.9 L11.1,41.2 L-3,41.2 Z"/>
<path class="t3b" d="M-3.4,41.1 L11.5,41.1" style="stroke-width:1.9"/>
<rect class="t3f" x="-0.7" y="32.6" width="11.6" height="2.6"/>
<path class="t3t" d="M11.1,30.2 L13.6,30.2 L13.6,37.5 L11.1,37.5"/>
</g>
<g transform="translate(356.36,613) rotate(180)">
<path class="t3" style="stroke-width:1.6" d="M-6,21.2 L-6,12.8 C-6,10 -8.3,8.8 -8.3,6.1 C-8.3,3.2 -4.6,1.1 0,1.1 C4.6,1.1 8.3,3.2 8.3,6.1 C8.3,8.8 6,10 6,12.8 L6,25.2"/>
<path class="t3t" style="stroke:#3a3a3a" d="M-7.1,6.8 C-7.1,4.6 -4,3.1 0,3.1 C4,3.1 7.1,4.6 7.1,6.8"/>
<path class="t3b" d="M-6.4,20.9 L-2.5,25.2 L11.7,25.2"/>
<path class="t3t" d="M-3.2,23.9 L-3.2,15 Q-3.2,12 0,12 Q3.2,12 3.2,15 L3.2,23.9"/>
<path class="t3t" style="stroke:#444;stroke-width:.9" d="M-4.9,15 L-4.9,22.6 M4.9,15 L4.9,22.6 M-4.9,16.3 L4.9,16.3 M-4.9,22.3 L4.9,22.3"/>
<path class="t3" style="stroke-width:1.25;stroke:#2a2a2a" d="M-3,28.9 L11.1,28.9 L11.1,41.2 L-3,41.2 Z"/>
<path class="t3b" d="M-3.4,41.1 L11.5,41.1" style="stroke-width:1.9"/>
<rect class="t3f" x="-0.7" y="32.6" width="11.6" height="2.6"/>
<path class="t3t" d="M11.1,30.2 L13.6,30.2 L13.6,37.5 L11.1,37.5"/>
</g>
</g>
</g>
<g id="d4">
<line x1="549.9" y1="441.7" x2="652.2" y2="441.7" class="dg"/>
<line x1="549.9" y1="624.5" x2="580.4" y2="624.5" class="dg"/>
<line x1="553.5" y1="442" x2="553.5" y2="505.4" class="dg"/>
<line x1="553.5" y1="560.4" x2="553.5" y2="624" class="dg"/>
<polygon points="553.5,441.8 550.9,459.4 556.1,459.4" class="ar"/>
<polygon points="553.5,624.5 550.9,606.9 556.1,606.9" class="ar"/>
<text class="num" font-size="24" transform="translate(545,506.6) rotate(90)" textLength="54" lengthAdjust="spacingAndGlyphs">39.1</text>
<path d="M582.9,623.5 L582.9,524.5 L771.8,524.5 L771.8,623.5" class="t4" style="stroke:#888;stroke-width:2.4;stroke-linejoin:miter"/>
<path d="M581.7,622.8 L581.7,525.4 Q581.7,523.4 583.7,523.4 L770.9,523.4 Q772.9,523.4 772.9,525.4 L772.9,622.8 Q772.9,624.8 770.9,624.8 L740.2,624.8 M613.6,624.8 L583.7,624.8 Q581.7,624.8 581.7,622.8" class="t4" style="stroke-width:1.5"/>
<line x1="581.7" y1="523.6" x2="772.9" y2="523.6" class="t4b"/>
<path d="M584,623 L584,525.6 M770.7,525.6 L770.7,623" class="t4t"/>
<line x1="584" y1="623.2" x2="613.6" y2="623.2" class="t4t"/>
<line x1="740.2" y1="623.4" x2="770.7" y2="623.4" class="t4b"/>
<line x1="581.7" y1="623.9" x2="613.6" y2="623.9" class="t4b" style="stroke:#555"/>
<path d="M613.6,624.8 L613.6,606.5 L647.6,606.5 L647.6,624.8 L706.8,624.8 L706.8,606.5 L738.4,606.5 L738.4,611.7 L734.8,611.7 L734.8,616.7 L740.2,623.9" class="t4"/>
<path d="M613.6,617.6 L620.8,617.6 L620.8,612.3 L626.2,612.3 L626.2,624.6 L613.6,624.6" class="t4"/>
<rect x="589.4" y="597.9" width="20.3" height="26.4" class="t4"/>
<rect x="634.3" y="553" width="86.1" height="40.8" class="t4" rx="5.6" ry="5.6"/>
<ellipse cx="594.3" cy="567.2" rx="9.8" ry="13.4" class="t4" style="stroke-width:1.05"/>
<ellipse cx="594.3" cy="567.2" rx="6" ry="8.1" class="t4" style="stroke-width:1.05"/>
<ellipse cx="594.3" cy="567.2" rx="3.8" ry="5.5" class="t4" style="stroke-width:1.05"/>
<ellipse cx="760.3" cy="567.2" rx="9.8" ry="13.4" class="t4" style="stroke-width:1.05"/>
<ellipse cx="760.3" cy="567.2" rx="6" ry="8.1" class="t4" style="stroke-width:1.05"/>
<ellipse cx="760.3" cy="567.2" rx="3.8" ry="5.5" class="t4" style="stroke-width:1.05"/>
<path d="M598.4,523.4 L598.4,487.5 L610.9,469.9 L621.7,469.9 L621.7,464.2 L622.7,463.2 L629.8,463.2 L629.8,467.5 L644.1,448 L654.6,448 L654.6,442.7 L655.6,441.7 L663.6,441.7 L664.6,442.7 L664.6,447.6 L667.8,447.6 L674.1,471.8 L674.1,511.3" class="t4"/>
<line x1="654.6" y1="447.8" x2="664.6" y2="447.8" class="t4t"/>
<line x1="621.7" y1="469.9" x2="628.5" y2="469.9" class="t4t"/>
<path d="M602.5,523.4 L602.5,502.7 L615.4,502.7 L622.6,493.7 L622.6,480.8 L648.6,480.8 L655.7,471.6 L655.7,457.2 L666,457.2 L670.5,471 L670.5,502.7 L663.3,502.7 L663.3,523.4" class="t4"/>
<path d="M671,507.3 L666.9,507.3 L666.9,519.4 Q666.9,523 670.5,523 L683.5,523 Q687.1,523 687.1,519.4 L687.1,507.3 L684,507.3 L680.4,511.3 M671,507.3 L674.1,511.3" class="t4"/>
<path d="M680.4,511.3 L680.4,470.9 L687.6,447.6 L690.2,447.6 L690.2,442.7 L691.2,441.7 L699.5,441.7 L700.5,442.7 L700.5,447.6 L711.9,447.6 L723,464.1 L723,463.2 L733.4,463.2 L733.4,469.5 L744.5,469.5 L755.8,485.7 L755.8,523.4" class="t4"/>
<line x1="690.2" y1="447.8" x2="700.5" y2="447.8" class="t4t"/>
<line x1="723" y1="469.5" x2="733.4" y2="469.5" class="t4t"/>
<line x1="723" y1="464.1" x2="723" y2="469.5" class="t4t"/>
<path class="t4t" d="M694,443 L694,444.6 L696.6,444.6 L696.6,443 M726.8,464.6 L726.8,466.2 L729.4,466.2 L729.4,464.6"/>
</g>
<g id="c1">
<g transform="translate(0,0)">
<path d="M228.6,823.3 L604,823.3 L604,886.3 L624.4,886.3 L624.4,951 L249.6,951 L249.6,886.3 L228.6,886.3 Z" class="c1"/>
<line x1="228.6" y1="836.4" x2="604" y2="836.4" class="c1"/>
<line x1="228.6" y1="868.5" x2="604" y2="868.5" class="c1"/>
<line x1="228.6" y1="876.9" x2="604" y2="876.9" class="c1"/>
<line x1="249.6" y1="941.1" x2="624.4" y2="941.1" class="c1"/>
<path d="M353.3,823.3 L353.3,886.3 L374.3,886.3 L374.3,951" class="c1"/>
<path d="M478.8,823.3 L478.8,886.3 L499.8,886.3 L499.8,951" class="c1"/>
<rect x="244.6" y="823.3" width="10" height="3.7" class="c1"/>
<ellipse cx="249.6" cy="852.2" rx="10.5" ry="8" class="c1"/>
<line x1="239.2" y1="851" x2="260" y2="851" class="c1"/>
<line x1="239.2" y1="853.6" x2="260" y2="853.6" class="c1"/>
<rect x="260" y="890.7" width="21.2" height="7.4" class="c1w"/>
<line x1="260" y1="891.5" x2="281.2" y2="891.5" class="c1" style="stroke-width:1.8"/>
<ellipse cx="270.6" cy="925.3" rx="10.5" ry="8" class="c1"/>
<line x1="260.2" y1="924.1" x2="281" y2="924.1" class="c1"/>
<line x1="260.2" y1="926.7" x2="281" y2="926.7" class="c1"/>
<rect x="286.25" y="823.3" width="10" height="3.7" class="c1"/>
<ellipse cx="291.25" cy="852.2" rx="10.5" ry="8" class="c1"/>
<line x1="280.85" y1="851" x2="301.65" y2="851" class="c1"/>
<line x1="280.85" y1="853.6" x2="301.65" y2="853.6" class="c1"/>
<rect x="301.65" y="890.7" width="21.2" height="7.4" class="c1w"/>
<line x1="301.65" y1="891.5" x2="322.85" y2="891.5" class="c1" style="stroke-width:1.8"/>
<ellipse cx="312.25" cy="925.3" rx="10.5" ry="8" class="c1"/>
<line x1="301.85" y1="924.1" x2="322.65" y2="924.1" class="c1"/>
<line x1="301.85" y1="926.7" x2="322.65" y2="926.7" class="c1"/>
<rect x="327.9" y="823.3" width="10" height="3.7" class="c1"/>
<ellipse cx="332.9" cy="852.2" rx="10.5" ry="8" class="c1"/>
<line x1="322.5" y1="851" x2="343.3" y2="851" class="c1"/>
<line x1="322.5" y1="853.6" x2="343.3" y2="853.6" class="c1"/>
<rect x="343.3" y="890.7" width="21.2" height="7.4" class="c1w"/>
<line x1="343.3" y1="891.5" x2="364.5" y2="891.5" class="c1" style="stroke-width:1.8"/>
<ellipse cx="353.9" cy="925.3" rx="10.5" ry="8" class="c1"/>
<line x1="343.5" y1="924.1" x2="364.3" y2="924.1" class="c1"/>
<line x1="343.5" y1="926.7" x2="364.3" y2="926.7" class="c1"/>
<rect x="369.55" y="823.3" width="10" height="3.7" class="c1"/>
<ellipse cx="374.55" cy="852.2" rx="10.5" ry="8" class="c1"/>
<line x1="364.15" y1="851" x2="384.95" y2="851" class="c1"/>
<line x1="364.15" y1="853.6" x2="384.95" y2="853.6" class="c1"/>
<rect x="384.95" y="890.7" width="21.2" height="7.4" class="c1w"/>
<line x1="384.95" y1="891.5" x2="406.15" y2="891.5" class="c1" style="stroke-width:1.8"/>
<ellipse cx="395.55" cy="925.3" rx="10.5" ry="8" class="c1"/>
<line x1="385.15" y1="924.1" x2="405.95" y2="924.1" class="c1"/>
<line x1="385.15" y1="926.7" x2="405.95" y2="926.7" class="c1"/>
<rect x="411.2" y="823.3" width="10" height="3.7" class="c1"/>
<ellipse cx="416.2" cy="852.2" rx="10.5" ry="8" class="c1"/>
<line x1="405.8" y1="851" x2="426.6" y2="851" class="c1"/>
<line x1="405.8" y1="853.6" x2="426.6" y2="853.6" class="c1"/>
<rect x="426.6" y="890.7" width="21.2" height="7.4" class="c1w"/>
<line x1="426.6" y1="891.5" x2="447.8" y2="891.5" class="c1" style="stroke-width:1.8"/>
<ellipse cx="437.2" cy="925.3" rx="10.5" ry="8" class="c1"/>
<line x1="426.8" y1="924.1" x2="447.6" y2="924.1" class="c1"/>
<line x1="426.8" y1="926.7" x2="447.6" y2="926.7" class="c1"/>
<rect x="452.85" y="823.3" width="10" height="3.7" class="c1"/>
<ellipse cx="457.85" cy="852.2" rx="10.5" ry="8" class="c1"/>
<line x1="447.45" y1="851" x2="468.25" y2="851" class="c1"/>
<line x1="447.45" y1="853.6" x2="468.25" y2="853.6" class="c1"/>
<rect x="468.25" y="890.7" width="21.2" height="7.4" class="c1w"/>
<line x1="468.25" y1="891.5" x2="489.45" y2="891.5" class="c1" style="stroke-width:1.8"/>
<ellipse cx="478.85" cy="925.3" rx="10.5" ry="8" class="c1"/>
<line x1="468.45" y1="924.1" x2="489.25" y2="924.1" class="c1"/>
<line x1="468.45" y1="926.7" x2="489.25" y2="926.7" class="c1"/>
<rect x="494.5" y="823.3" width="10" height="3.7" class="c1"/>
<ellipse cx="499.5" cy="852.2" rx="10.5" ry="8" class="c1"/>
<line x1="489.1" y1="851" x2="509.9" y2="851" class="c1"/>
<line x1="489.1" y1="853.6" x2="509.9" y2="853.6" class="c1"/>
<rect x="509.9" y="890.7" width="21.2" height="7.4" class="c1w"/>
<line x1="509.9" y1="891.5" x2="531.1" y2="891.5" class="c1" style="stroke-width:1.8"/>
<ellipse cx="520.5" cy="925.3" rx="10.5" ry="8" class="c1"/>
<line x1="510.1" y1="924.1" x2="530.9" y2="924.1" class="c1"/>
<line x1="510.1" y1="926.7" x2="530.9" y2="926.7" class="c1"/>
<rect x="536.15" y="823.3" width="10" height="3.7" class="c1"/>
<ellipse cx="541.15" cy="852.2" rx="10.5" ry="8" class="c1"/>
<line x1="530.75" y1="851" x2="551.55" y2="851" class="c1"/>
<line x1="530.75" y1="853.6" x2="551.55" y2="853.6" class="c1"/>
<rect x="551.55" y="890.7" width="21.2" height="7.4" class="c1w"/>
<line x1="551.55" y1="891.5" x2="572.75" y2="891.5" class="c1" style="stroke-width:1.8"/>
<ellipse cx="562.15" cy="925.3" rx="10.5" ry="8" class="c1"/>
<line x1="551.75" y1="924.1" x2="572.55" y2="924.1" class="c1"/>
<line x1="551.75" y1="926.7" x2="572.55" y2="926.7" class="c1"/>
<rect x="577.8" y="823.3" width="10" height="3.7" class="c1"/>
<ellipse cx="582.8" cy="852.2" rx="10.5" ry="8" class="c1"/>
<line x1="572.4" y1="851" x2="593.2" y2="851" class="c1"/>
<line x1="572.4" y1="853.6" x2="593.2" y2="853.6" class="c1"/>
<rect x="593.2" y="890.7" width="21.2" height="7.4" class="c1w"/>
<line x1="593.2" y1="891.5" x2="614.4" y2="891.5" class="c1" style="stroke-width:1.8"/>
<ellipse cx="603.8" cy="925.3" rx="10.5" ry="8" class="c1"/>
<line x1="593.4" y1="924.1" x2="614.2" y2="924.1" class="c1"/>
<line x1="593.4" y1="926.7" x2="614.2" y2="926.7" class="c1"/>
</g>
<text class="lab" transform="translate(257.5,814.9) scale(1.23,1)">S0</text>
<text class="lab" transform="translate(273.8,975.6) scale(1.23,1)">R0</text>
<text class="lab" transform="translate(299.4,814.9) scale(1.23,1)">S1</text>
<text class="lab" transform="translate(315.4,975.6) scale(1.23,1)">R1</text>
<text class="lab" transform="translate(341.3,814.9) scale(1.23,1)">S2</text>
<text class="lab" transform="translate(357,975.6) scale(1.23,1)">R2</text>
<text class="lab" transform="translate(383.2,814.9) scale(1.23,1)">S3</text>
<text class="lab" transform="translate(398.6,975.6) scale(1.23,1)">R3</text>
<text class="lab" transform="translate(425.1,814.9) scale(1.23,1)">S4</text>
<text class="lab" transform="translate(440.2,975.6) scale(1.23,1)">R4</text>
<text class="lab" transform="translate(467,814.9) scale(1.23,1)">S5</text>
<text class="lab" transform="translate(481.8,975.6) scale(1.23,1)">R5</text>
<text class="lab" transform="translate(508.9,814.9) scale(1.23,1)">S6</text>
<text class="lab" transform="translate(523.4,975.6) scale(1.23,1)">R6</text>
<text class="lab" transform="translate(550.8,814.9) scale(1.23,1)">S7</text>
<text class="lab" transform="translate(565,975.6) scale(1.23,1)">R7</text>
<text class="lab" transform="translate(592.7,814.9) scale(1.23,1)">S8</text>
<text class="lab" transform="translate(606.6,975.6) scale(1.23,1)">R8</text>
</g>
<g id="c2">
<g transform="translate(36.2,459.5)">
<path d="M228.6,823.3 L604,823.3 L604,886.3 L624.4,886.3 L624.4,951 L249.6,951 L249.6,886.3 L228.6,886.3 Z" class="c1"/>
<line x1="228.6" y1="836.4" x2="604" y2="836.4" class="c1"/>
<line x1="228.6" y1="868.5" x2="604" y2="868.5" class="c1"/>
<line x1="228.6" y1="876.9" x2="604" y2="876.9" class="c1"/>
<line x1="249.6" y1="941.1" x2="624.4" y2="941.1" class="c1"/>
<path d="M353.3,823.3 L353.3,886.3 L374.3,886.3 L374.3,951" class="c1"/>
<path d="M478.8,823.3 L478.8,886.3 L499.8,886.3 L499.8,951" class="c1"/>
<rect x="244.6" y="823.3" width="10" height="3.7" class="c1"/>
<ellipse cx="249.6" cy="852.2" rx="10.5" ry="8" class="c1"/>
<line x1="239.2" y1="851" x2="260" y2="851" class="c1"/>
<line x1="239.2" y1="853.6" x2="260" y2="853.6" class="c1"/>
<rect x="260" y="890.7" width="21.2" height="7.4" class="c1w"/>
<line x1="260" y1="891.5" x2="281.2" y2="891.5" class="c1" style="stroke-width:1.8"/>
<ellipse cx="270.6" cy="925.3" rx="10.5" ry="8" class="c1"/>
<line x1="260.2" y1="924.1" x2="281" y2="924.1" class="c1"/>
<line x1="260.2" y1="926.7" x2="281" y2="926.7" class="c1"/>
<rect x="286.25" y="823.3" width="10" height="3.7" class="c1"/>
<ellipse cx="291.25" cy="852.2" rx="10.5" ry="8" class="c1"/>
<line x1="280.85" y1="851" x2="301.65" y2="851" class="c1"/>
<line x1="280.85" y1="853.6" x2="301.65" y2="853.6" class="c1"/>
<rect x="301.65" y="890.7" width="21.2" height="7.4" class="c1w"/>
<line x1="301.65" y1="891.5" x2="322.85" y2="891.5" class="c1" style="stroke-width:1.8"/>
<ellipse cx="312.25" cy="925.3" rx="10.5" ry="8" class="c1"/>
<line x1="301.85" y1="924.1" x2="322.65" y2="924.1" class="c1"/>
<line x1="301.85" y1="926.7" x2="322.65" y2="926.7" class="c1"/>
<rect x="327.9" y="823.3" width="10" height="3.7" class="c1"/>
<ellipse cx="332.9" cy="852.2" rx="10.5" ry="8" class="c1"/>
<line x1="322.5" y1="851" x2="343.3" y2="851" class="c1"/>
<line x1="322.5" y1="853.6" x2="343.3" y2="853.6" class="c1"/>
<rect x="343.3" y="890.7" width="21.2" height="7.4" class="c1w"/>
<line x1="343.3" y1="891.5" x2="364.5" y2="891.5" class="c1" style="stroke-width:1.8"/>
<ellipse cx="353.9" cy="925.3" rx="10.5" ry="8" class="c1"/>
<line x1="343.5" y1="924.1" x2="364.3" y2="924.1" class="c1"/>
<line x1="343.5" y1="926.7" x2="364.3" y2="926.7" class="c1"/>
<rect x="369.55" y="823.3" width="10" height="3.7" class="c1"/>
<ellipse cx="374.55" cy="852.2" rx="10.5" ry="8" class="c1"/>
<line x1="364.15" y1="851" x2="384.95" y2="851" class="c1"/>
<line x1="364.15" y1="853.6" x2="384.95" y2="853.6" class="c1"/>
<rect x="384.95" y="890.7" width="21.2" height="7.4" class="c1w"/>
<line x1="384.95" y1="891.5" x2="406.15" y2="891.5" class="c1" style="stroke-width:1.8"/>
<ellipse cx="395.55" cy="925.3" rx="10.5" ry="8" class="c1"/>
<line x1="385.15" y1="924.1" x2="405.95" y2="924.1" class="c1"/>
<line x1="385.15" y1="926.7" x2="405.95" y2="926.7" class="c1"/>
<rect x="411.2" y="823.3" width="10" height="3.7" class="c1"/>
<ellipse cx="416.2" cy="852.2" rx="10.5" ry="8" class="c1"/>
<line x1="405.8" y1="851" x2="426.6" y2="851" class="c1"/>
<line x1="405.8" y1="853.6" x2="426.6" y2="853.6" class="c1"/>
<rect x="426.6" y="890.7" width="21.2" height="7.4" class="c1w"/>
<line x1="426.6" y1="891.5" x2="447.8" y2="891.5" class="c1" style="stroke-width:1.8"/>
<ellipse cx="437.2" cy="925.3" rx="10.5" ry="8" class="c1"/>
<line x1="426.8" y1="924.1" x2="447.6" y2="924.1" class="c1"/>
<line x1="426.8" y1="926.7" x2="447.6" y2="926.7" class="c1"/>
<rect x="452.85" y="823.3" width="10" height="3.7" class="c1"/>
<ellipse cx="457.85" cy="852.2" rx="10.5" ry="8" class="c1"/>
<line x1="447.45" y1="851" x2="468.25" y2="851" class="c1"/>
<line x1="447.45" y1="853.6" x2="468.25" y2="853.6" class="c1"/>
<rect x="468.25" y="890.7" width="21.2" height="7.4" class="c1w"/>
<line x1="468.25" y1="891.5" x2="489.45" y2="891.5" class="c1" style="stroke-width:1.8"/>
<ellipse cx="478.85" cy="925.3" rx="10.5" ry="8" class="c1"/>
<line x1="468.45" y1="924.1" x2="489.25" y2="924.1" class="c1"/>
<line x1="468.45" y1="926.7" x2="489.25" y2="926.7" class="c1"/>
<rect x="494.5" y="823.3" width="10" height="3.7" class="c1"/>
<ellipse cx="499.5" cy="852.2" rx="10.5" ry="8" class="c1"/>
<line x1="489.1" y1="851" x2="509.9" y2="851" class="c1"/>
<line x1="489.1" y1="853.6" x2="509.9" y2="853.6" class="c1"/>
<rect x="509.9" y="890.7" width="21.2" height="7.4" class="c1w"/>
<line x1="509.9" y1="891.5" x2="531.1" y2="891.5" class="c1" style="stroke-width:1.8"/>
<ellipse cx="520.5" cy="925.3" rx="10.5" ry="8" class="c1"/>
<line x1="510.1" y1="924.1" x2="530.9" y2="924.1" class="c1"/>
<line x1="510.1" y1="926.7" x2="530.9" y2="926.7" class="c1"/>
<rect x="536.15" y="823.3" width="10" height="3.7" class="c1"/>
<ellipse cx="541.15" cy="852.2" rx="10.5" ry="8" class="c1"/>
<line x1="530.75" y1="851" x2="551.55" y2="851" class="c1"/>
<line x1="530.75" y1="853.6" x2="551.55" y2="853.6" class="c1"/>
<rect x="551.55" y="890.7" width="21.2" height="7.4" class="c1w"/>
<line x1="551.55" y1="891.5" x2="572.75" y2="891.5" class="c1" style="stroke-width:1.8"/>
<ellipse cx="562.15" cy="925.3" rx="10.5" ry="8" class="c1"/>
<line x1="551.75" y1="924.1" x2="572.55" y2="924.1" class="c1"/>
<line x1="551.75" y1="926.7" x2="572.55" y2="926.7" class="c1"/>
<rect x="577.8" y="823.3" width="10" height="3.7" class="c1"/>
<ellipse cx="582.8" cy="852.2" rx="10.5" ry="8" class="c1"/>
<line x1="572.4" y1="851" x2="593.2" y2="851" class="c1"/>
<line x1="572.4" y1="853.6" x2="593.2" y2="853.6" class="c1"/>
<rect x="593.2" y="890.7" width="21.2" height="7.4" class="c1w"/>
<line x1="593.2" y1="891.5" x2="614.4" y2="891.5" class="c1" style="stroke-width:1.8"/>
<ellipse cx="603.8" cy="925.3" rx="10.5" ry="8" class="c1"/>
<line x1="593.4" y1="924.1" x2="614.2" y2="924.1" class="c1"/>
<line x1="593.4" y1="926.7" x2="614.2" y2="926.7" class="c1"/>
</g>
<text class="lab" transform="translate(289,1273.5) scale(1.23,1)">R0</text>
<text class="lab" transform="translate(308.9,1431.6) scale(1.23,1)">S0</text>
<text class="lab" transform="translate(330.7,1273.5) scale(1.23,1)">R1</text>
<text class="lab" transform="translate(350.8,1431.6) scale(1.23,1)">S1</text>
<text class="lab" transform="translate(372.4,1273.5) scale(1.23,1)">R2</text>
<text class="lab" transform="translate(392.7,1431.6) scale(1.23,1)">S2</text>
<text class="lab" transform="translate(414.1,1273.5) scale(1.23,1)">R3</text>
<text class="lab" transform="translate(434.6,1431.6) scale(1.23,1)">S3</text>
<text class="lab" transform="translate(455.8,1273.5) scale(1.23,1)">R4</text>
<text class="lab" transform="translate(476.5,1431.6) scale(1.23,1)">S4</text>
<text class="lab" transform="translate(497.5,1273.5) scale(1.23,1)">R5</text>
<text class="lab" transform="translate(518.4,1431.6) scale(1.23,1)">S5</text>
<text class="lab" transform="translate(539.2,1273.5) scale(1.23,1)">R6</text>
<text class="lab" transform="translate(560.3,1431.6) scale(1.23,1)">S6</text>
<text class="lab" transform="translate(580.9,1273.5) scale(1.23,1)">R7</text>
<text class="lab" transform="translate(602.2,1431.6) scale(1.23,1)">S7</text>
<text class="lab" transform="translate(622.6,1273.5) scale(1.23,1)">R8</text>
<text class="lab" transform="translate(644.1,1431.6) scale(1.23,1)">S8</text>
</g>
<g id="wd">
<rect x="119.5" y="998.5" width="635.8" height="98" class="gbox"/>
<rect x="119.5" y="1139.5" width="635.8" height="90" class="gbox"/>
<line x1="190.7" y1="1049" x2="190.7" y2="1188" class="w"/>
<line x1="157.7" y1="1087" x2="157.7" y2="1150" class="w"/>
<ellipse cx="190.7" cy="1043.8" rx="6.6" ry="5.3" class="wc"/>
<ellipse cx="190.7" cy="1193" rx="6.6" ry="5.3" class="wc"/>
<ellipse cx="157.7" cy="1081.9" rx="6.6" ry="5.3" class="wc"/>
<ellipse cx="157.7" cy="1154.9" rx="6.6" ry="5.3" class="wc"/>
<text class="lab2" transform="translate(192.5,1022.1) scale(1.37,1)">S00</text>
<text class="lab2" transform="translate(192.5,1217.2) scale(1.37,1)">S00</text>
<text class="lab2" transform="translate(160.6,1066.5) scale(1.37,1)">R00</text>
<text class="lab2" transform="translate(160.6,1184.6) scale(1.37,1)">R00</text>
<line x1="256.25" y1="1049" x2="256.25" y2="1188" class="w"/>
<line x1="223.26" y1="1087" x2="223.26" y2="1150" class="w"/>
<ellipse cx="256.25" cy="1043.8" rx="6.6" ry="5.3" class="wc"/>
<ellipse cx="256.25" cy="1193" rx="6.6" ry="5.3" class="wc"/>
<ellipse cx="223.26" cy="1081.9" rx="6.6" ry="5.3" class="wc"/>
<ellipse cx="223.26" cy="1154.9" rx="6.6" ry="5.3" class="wc"/>
<text class="lab2" transform="translate(258.1,1022.1) scale(1.37,1)">S01</text>
<text class="lab2" transform="translate(258.1,1217.2) scale(1.37,1)">S01</text>
<text class="lab2" transform="translate(226.2,1066.5) scale(1.37,1)">R01</text>
<text class="lab2" transform="translate(226.2,1184.6) scale(1.37,1)">R01</text>
<line x1="321.8" y1="1049" x2="321.8" y2="1188" class="w"/>
<line x1="288.82" y1="1087" x2="288.82" y2="1150" class="w"/>
<ellipse cx="321.8" cy="1043.8" rx="6.6" ry="5.3" class="wc"/>
<ellipse cx="321.8" cy="1193" rx="6.6" ry="5.3" class="wc"/>
<ellipse cx="288.82" cy="1081.9" rx="6.6" ry="5.3" class="wc"/>
<ellipse cx="288.82" cy="1154.9" rx="6.6" ry="5.3" class="wc"/>
<text class="lab2" transform="translate(323.7,1022.1) scale(1.37,1)">S02</text>
<text class="lab2" transform="translate(323.7,1217.2) scale(1.37,1)">S02</text>
<text class="lab2" transform="translate(291.8,1066.5) scale(1.37,1)">R02</text>
<text class="lab2" transform="translate(291.8,1184.6) scale(1.37,1)">R02</text>
<line x1="387.35" y1="1049" x2="387.35" y2="1188" class="w"/>
<line x1="354.38" y1="1087" x2="354.38" y2="1150" class="w"/>
<ellipse cx="387.35" cy="1043.8" rx="6.6" ry="5.3" class="wc"/>
<ellipse cx="387.35" cy="1193" rx="6.6" ry="5.3" class="wc"/>
<ellipse cx="354.38" cy="1081.9" rx="6.6" ry="5.3" class="wc"/>
<ellipse cx="354.38" cy="1154.9" rx="6.6" ry="5.3" class="wc"/>
<text class="lab2" transform="translate(389.3,1022.1) scale(1.37,1)">S03</text>
<text class="lab2" transform="translate(389.3,1217.2) scale(1.37,1)">S03</text>
<text class="lab2" transform="translate(357.4,1066.5) scale(1.37,1)">R03</text>
<text class="lab2" transform="translate(357.4,1184.6) scale(1.37,1)">R03</text>
<line x1="452.9" y1="1049" x2="452.9" y2="1188" class="w"/>
<line x1="419.94" y1="1087" x2="419.94" y2="1150" class="w"/>
<ellipse cx="452.9" cy="1043.8" rx="6.6" ry="5.3" class="wc"/>
<ellipse cx="452.9" cy="1193" rx="6.6" ry="5.3" class="wc"/>
<ellipse cx="419.94" cy="1081.9" rx="6.6" ry="5.3" class="wc"/>
<ellipse cx="419.94" cy="1154.9" rx="6.6" ry="5.3" class="wc"/>
<text class="lab2" transform="translate(454.9,1022.1) scale(1.37,1)">S04</text>
<text class="lab2" transform="translate(454.9,1217.2) scale(1.37,1)">S04</text>
<text class="lab2" transform="translate(423,1066.5) scale(1.37,1)">R04</text>
<text class="lab2" transform="translate(423,1184.6) scale(1.37,1)">R04</text>
<line x1="518.45" y1="1049" x2="518.45" y2="1188" class="w"/>
<line x1="485.5" y1="1087" x2="485.5" y2="1150" class="w"/>
<ellipse cx="518.45" cy="1043.8" rx="6.6" ry="5.3" class="wc"/>
<ellipse cx="518.45" cy="1193" rx="6.6" ry="5.3" class="wc"/>
<ellipse cx="485.5" cy="1081.9" rx="6.6" ry="5.3" class="wc"/>
<ellipse cx="485.5" cy="1154.9" rx="6.6" ry="5.3" class="wc"/>
<text class="lab2" transform="translate(520.5,1022.1) scale(1.37,1)">S05</text>
<text class="lab2" transform="translate(520.5,1217.2) scale(1.37,1)">S05</text>
<text class="lab2" transform="translate(488.6,1066.5) scale(1.37,1)">R05</text>
<text class="lab2" transform="translate(488.6,1184.6) scale(1.37,1)">R05</text>
<line x1="584" y1="1049" x2="584" y2="1188" class="w"/>
<line x1="551.06" y1="1087" x2="551.06" y2="1150" class="w"/>
<ellipse cx="584" cy="1043.8" rx="6.6" ry="5.3" class="wc"/>
<ellipse cx="584" cy="1193" rx="6.6" ry="5.3" class="wc"/>
<ellipse cx="551.06" cy="1081.9" rx="6.6" ry="5.3" class="wc"/>
<ellipse cx="551.06" cy="1154.9" rx="6.6" ry="5.3" class="wc"/>
<text class="lab2" transform="translate(586.1,1022.1) scale(1.37,1)">S06</text>
<text class="lab2" transform="translate(586.1,1217.2) scale(1.37,1)">S06</text>
<text class="lab2" transform="translate(554.2,1066.5) scale(1.37,1)">R06</text>
<text class="lab2" transform="translate(554.2,1184.6) scale(1.37,1)">R06</text>
<line x1="649.55" y1="1049" x2="649.55" y2="1188" class="w"/>
<line x1="616.62" y1="1087" x2="616.62" y2="1150" class="w"/>
<ellipse cx="649.55" cy="1043.8" rx="6.6" ry="5.3" class="wc"/>
<ellipse cx="649.55" cy="1193" rx="6.6" ry="5.3" class="wc"/>
<ellipse cx="616.62" cy="1081.9" rx="6.6" ry="5.3" class="wc"/>
<ellipse cx="616.62" cy="1154.9" rx="6.6" ry="5.3" class="wc"/>
<text class="lab2" transform="translate(651.7,1022.1) scale(1.37,1)">S07</text>
<text class="lab2" transform="translate(651.7,1217.2) scale(1.37,1)">S07</text>
<text class="lab2" transform="translate(619.8,1066.5) scale(1.37,1)">R07</text>
<text class="lab2" transform="translate(619.8,1184.6) scale(1.37,1)">R07</text>
<line x1="715.1" y1="1049" x2="715.1" y2="1188" class="w"/>
<line x1="682.18" y1="1087" x2="682.18" y2="1150" class="w"/>
<ellipse cx="715.1" cy="1043.8" rx="6.6" ry="5.3" class="wc"/>
<ellipse cx="715.1" cy="1193" rx="6.6" ry="5.3" class="wc"/>
<ellipse cx="682.18" cy="1081.9" rx="6.6" ry="5.3" class="wc"/>
<ellipse cx="682.18" cy="1154.9" rx="6.6" ry="5.3" class="wc"/>
<text class="lab2" transform="translate(717.3,1022.1) scale(1.37,1)">S08</text>
<text class="lab2" transform="translate(717.3,1217.2) scale(1.37,1)">S08</text>
<text class="lab2" transform="translate(685.4,1066.5) scale(1.37,1)">R08</text>
<text class="lab2" transform="translate(685.4,1184.6) scale(1.37,1)">R08</text>
</g>
</svg>
</div>
</body>
</html>
